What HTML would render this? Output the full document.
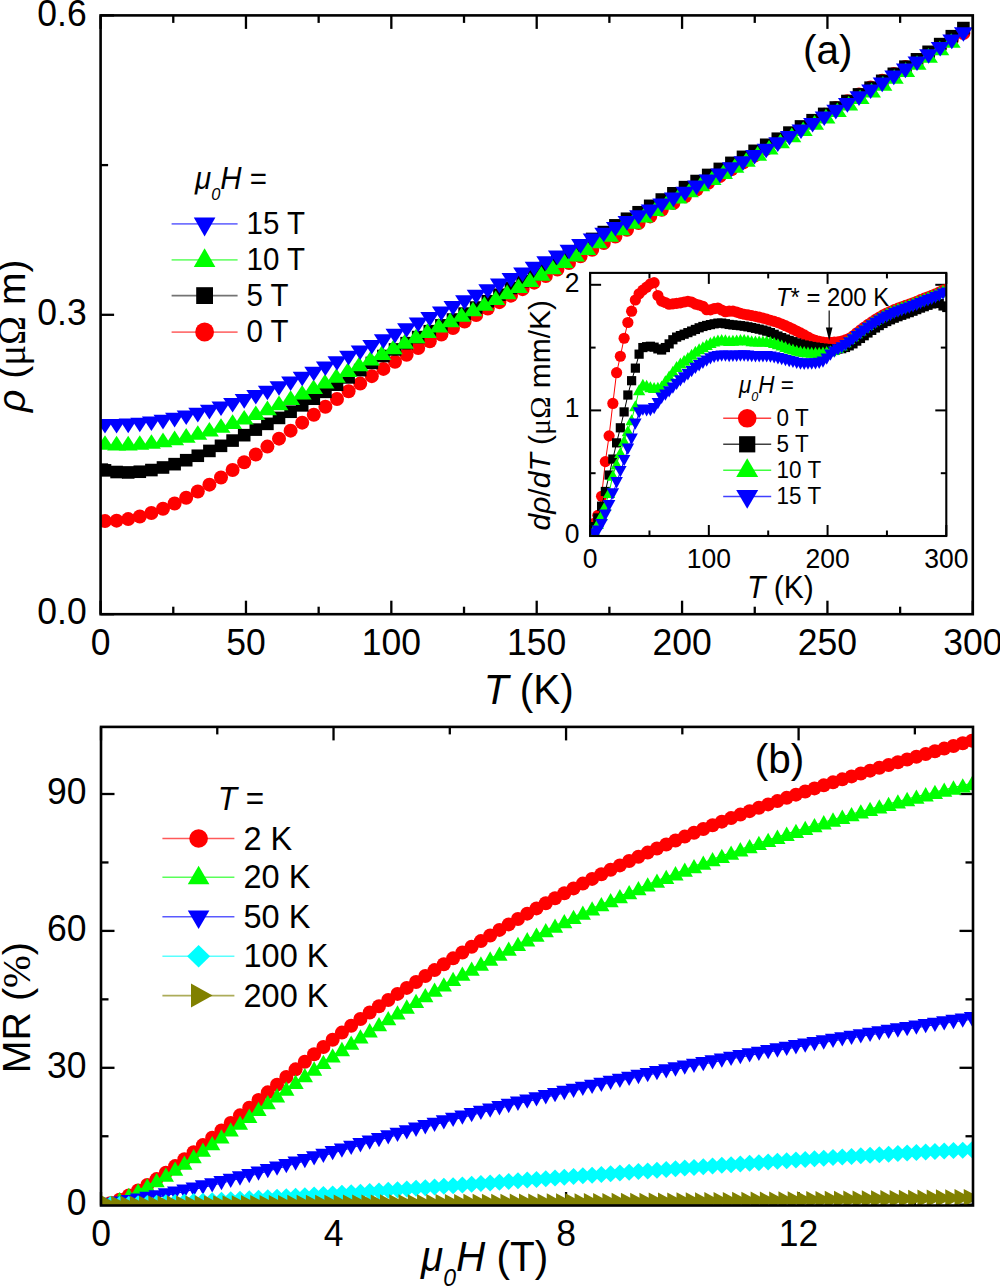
<!DOCTYPE html>
<html><head><meta charset="utf-8"><style>
html,body{margin:0;padding:0;background:#fff;width:1000px;height:1287px;overflow:hidden}
svg{display:block}
text{fill:#000}
</style></head><body>
<svg width="1000" height="1287" viewBox="0 0 1000 1287" font-family='"Liberation Sans", sans-serif'>
<defs>
<clipPath id="clipA"><rect x="100.6" y="15.4" width="872.2" height="598.8"/></clipPath>
<clipPath id="clipI"><rect x="590.1" y="272.9" width="356.2" height="263.1"/></clipPath>
<clipPath id="clipB"><rect x="101.0" y="726.9" width="872" height="478.6"/></clipPath>
</defs>
<rect width="1000" height="1287" fill="#fff"/>
<line x1="100.6" y1="614.2" x2="100.6" y2="600.7" stroke="#000" stroke-width="2.3"/><line x1="100.6" y1="15.4" x2="100.6" y2="28.9" stroke="#000" stroke-width="2.3"/><line x1="173.28" y1="614.2" x2="173.28" y2="606.7" stroke="#000" stroke-width="2.3"/><line x1="173.28" y1="15.4" x2="173.28" y2="22.9" stroke="#000" stroke-width="2.3"/><line x1="245.97" y1="614.2" x2="245.97" y2="600.7" stroke="#000" stroke-width="2.3"/><line x1="245.97" y1="15.4" x2="245.97" y2="28.9" stroke="#000" stroke-width="2.3"/><line x1="318.65" y1="614.2" x2="318.65" y2="606.7" stroke="#000" stroke-width="2.3"/><line x1="318.65" y1="15.4" x2="318.65" y2="22.9" stroke="#000" stroke-width="2.3"/><line x1="391.33" y1="614.2" x2="391.33" y2="600.7" stroke="#000" stroke-width="2.3"/><line x1="391.33" y1="15.4" x2="391.33" y2="28.9" stroke="#000" stroke-width="2.3"/><line x1="464.02" y1="614.2" x2="464.02" y2="606.7" stroke="#000" stroke-width="2.3"/><line x1="464.02" y1="15.4" x2="464.02" y2="22.9" stroke="#000" stroke-width="2.3"/><line x1="536.7" y1="614.2" x2="536.7" y2="600.7" stroke="#000" stroke-width="2.3"/><line x1="536.7" y1="15.4" x2="536.7" y2="28.9" stroke="#000" stroke-width="2.3"/><line x1="609.38" y1="614.2" x2="609.38" y2="606.7" stroke="#000" stroke-width="2.3"/><line x1="609.38" y1="15.4" x2="609.38" y2="22.9" stroke="#000" stroke-width="2.3"/><line x1="682.07" y1="614.2" x2="682.07" y2="600.7" stroke="#000" stroke-width="2.3"/><line x1="682.07" y1="15.4" x2="682.07" y2="28.9" stroke="#000" stroke-width="2.3"/><line x1="754.75" y1="614.2" x2="754.75" y2="606.7" stroke="#000" stroke-width="2.3"/><line x1="754.75" y1="15.4" x2="754.75" y2="22.9" stroke="#000" stroke-width="2.3"/><line x1="827.43" y1="614.2" x2="827.43" y2="600.7" stroke="#000" stroke-width="2.3"/><line x1="827.43" y1="15.4" x2="827.43" y2="28.9" stroke="#000" stroke-width="2.3"/><line x1="900.12" y1="614.2" x2="900.12" y2="606.7" stroke="#000" stroke-width="2.3"/><line x1="900.12" y1="15.4" x2="900.12" y2="22.9" stroke="#000" stroke-width="2.3"/><line x1="972.8" y1="614.2" x2="972.8" y2="600.7" stroke="#000" stroke-width="2.3"/><line x1="972.8" y1="15.4" x2="972.8" y2="28.9" stroke="#000" stroke-width="2.3"/><line x1="100.6" y1="614.2" x2="114.1" y2="614.2" stroke="#000" stroke-width="2.3"/><line x1="100.6" y1="464.5" x2="108.1" y2="464.5" stroke="#000" stroke-width="2.3"/><line x1="100.6" y1="314.8" x2="114.1" y2="314.8" stroke="#000" stroke-width="2.3"/><line x1="100.6" y1="165.1" x2="108.1" y2="165.1" stroke="#000" stroke-width="2.3"/><line x1="100.6" y1="15.4" x2="114.1" y2="15.4" stroke="#000" stroke-width="2.3"/><line x1="101" y1="1205.5" x2="101" y2="1192" stroke="#000" stroke-width="2.3"/><line x1="101" y1="726.9" x2="101" y2="740.4" stroke="#000" stroke-width="2.3"/><line x1="217.27" y1="1205.5" x2="217.27" y2="1198" stroke="#000" stroke-width="2.3"/><line x1="217.27" y1="726.9" x2="217.27" y2="734.4" stroke="#000" stroke-width="2.3"/><line x1="333.53" y1="1205.5" x2="333.53" y2="1192" stroke="#000" stroke-width="2.3"/><line x1="333.53" y1="726.9" x2="333.53" y2="740.4" stroke="#000" stroke-width="2.3"/><line x1="449.8" y1="1205.5" x2="449.8" y2="1198" stroke="#000" stroke-width="2.3"/><line x1="449.8" y1="726.9" x2="449.8" y2="734.4" stroke="#000" stroke-width="2.3"/><line x1="566.07" y1="1205.5" x2="566.07" y2="1192" stroke="#000" stroke-width="2.3"/><line x1="566.07" y1="726.9" x2="566.07" y2="740.4" stroke="#000" stroke-width="2.3"/><line x1="682.33" y1="1205.5" x2="682.33" y2="1198" stroke="#000" stroke-width="2.3"/><line x1="682.33" y1="726.9" x2="682.33" y2="734.4" stroke="#000" stroke-width="2.3"/><line x1="798.6" y1="1205.5" x2="798.6" y2="1192" stroke="#000" stroke-width="2.3"/><line x1="798.6" y1="726.9" x2="798.6" y2="740.4" stroke="#000" stroke-width="2.3"/><line x1="914.87" y1="1205.5" x2="914.87" y2="1198" stroke="#000" stroke-width="2.3"/><line x1="914.87" y1="726.9" x2="914.87" y2="734.4" stroke="#000" stroke-width="2.3"/><line x1="101" y1="1204.7" x2="114.5" y2="1204.7" stroke="#000" stroke-width="2.3"/><line x1="973" y1="1204.7" x2="959.5" y2="1204.7" stroke="#000" stroke-width="2.3"/><line x1="101" y1="1136.25" x2="108.5" y2="1136.25" stroke="#000" stroke-width="2.3"/><line x1="973" y1="1136.25" x2="965.5" y2="1136.25" stroke="#000" stroke-width="2.3"/><line x1="101" y1="1067.8" x2="114.5" y2="1067.8" stroke="#000" stroke-width="2.3"/><line x1="973" y1="1067.8" x2="959.5" y2="1067.8" stroke="#000" stroke-width="2.3"/><line x1="101" y1="999.35" x2="108.5" y2="999.35" stroke="#000" stroke-width="2.3"/><line x1="973" y1="999.35" x2="965.5" y2="999.35" stroke="#000" stroke-width="2.3"/><line x1="101" y1="930.9" x2="114.5" y2="930.9" stroke="#000" stroke-width="2.3"/><line x1="973" y1="930.9" x2="959.5" y2="930.9" stroke="#000" stroke-width="2.3"/><line x1="101" y1="862.45" x2="108.5" y2="862.45" stroke="#000" stroke-width="2.3"/><line x1="973" y1="862.45" x2="965.5" y2="862.45" stroke="#000" stroke-width="2.3"/><line x1="101" y1="794" x2="114.5" y2="794" stroke="#000" stroke-width="2.3"/><line x1="973" y1="794" x2="959.5" y2="794" stroke="#000" stroke-width="2.3"/>
<g clip-path="url(#clipA)"><circle cx="105" cy="521.1" r="7" fill="#ff0000"/><circle cx="116.6" cy="520.67" r="7" fill="#ff0000"/><circle cx="128.2" cy="519.12" r="7" fill="#ff0000"/><circle cx="139.8" cy="516.54" r="7" fill="#ff0000"/><circle cx="151.4" cy="513.03" r="7" fill="#ff0000"/><circle cx="163" cy="508.68" r="7" fill="#ff0000"/><circle cx="174.6" cy="503.57" r="7" fill="#ff0000"/><circle cx="186.2" cy="497.81" r="7" fill="#ff0000"/><circle cx="197.8" cy="491.48" r="7" fill="#ff0000"/><circle cx="209.4" cy="484.67" r="7" fill="#ff0000"/><circle cx="221" cy="477.47" r="7" fill="#ff0000"/><circle cx="232.6" cy="469.98" r="7" fill="#ff0000"/><circle cx="244.2" cy="462.3" r="7" fill="#ff0000"/><circle cx="255.8" cy="454.49" r="7" fill="#ff0000"/><circle cx="267.4" cy="446.59" r="7" fill="#ff0000"/><circle cx="279" cy="438.64" r="7" fill="#ff0000"/><circle cx="290.6" cy="430.66" r="7" fill="#ff0000"/><circle cx="302.2" cy="422.67" r="7" fill="#ff0000"/><circle cx="313.8" cy="414.7" r="7" fill="#ff0000"/><circle cx="325.4" cy="406.79" r="7" fill="#ff0000"/><circle cx="337" cy="398.95" r="7" fill="#ff0000"/><circle cx="348.6" cy="391.21" r="7" fill="#ff0000"/><circle cx="360.2" cy="383.61" r="7" fill="#ff0000"/><circle cx="371.8" cy="376.16" r="7" fill="#ff0000"/><circle cx="383.4" cy="368.88" r="7" fill="#ff0000"/><circle cx="395" cy="361.77" r="7" fill="#ff0000"/><circle cx="406.6" cy="354.81" r="7" fill="#ff0000"/><circle cx="418.2" cy="347.97" r="7" fill="#ff0000"/><circle cx="429.8" cy="341.24" r="7" fill="#ff0000"/><circle cx="441.4" cy="334.61" r="7" fill="#ff0000"/><circle cx="453" cy="328.04" r="7" fill="#ff0000"/><circle cx="464.6" cy="321.53" r="7" fill="#ff0000"/><circle cx="476.2" cy="315.06" r="7" fill="#ff0000"/><circle cx="487.8" cy="308.6" r="7" fill="#ff0000"/><circle cx="499.4" cy="302.13" r="7" fill="#ff0000"/><circle cx="511" cy="295.65" r="7" fill="#ff0000"/><circle cx="522.6" cy="289.15" r="7" fill="#ff0000"/><circle cx="534.2" cy="282.63" r="7" fill="#ff0000"/><circle cx="545.8" cy="276.08" r="7" fill="#ff0000"/><circle cx="557.4" cy="269.52" r="7" fill="#ff0000"/><circle cx="569" cy="262.94" r="7" fill="#ff0000"/><circle cx="580.6" cy="256.34" r="7" fill="#ff0000"/><circle cx="592.2" cy="249.72" r="7" fill="#ff0000"/><circle cx="603.8" cy="243.09" r="7" fill="#ff0000"/><circle cx="615.4" cy="236.44" r="7" fill="#ff0000"/><circle cx="627" cy="229.77" r="7" fill="#ff0000"/><circle cx="638.6" cy="223.09" r="7" fill="#ff0000"/><circle cx="650.2" cy="216.4" r="7" fill="#ff0000"/><circle cx="661.8" cy="209.7" r="7" fill="#ff0000"/><circle cx="673.4" cy="202.98" r="7" fill="#ff0000"/><circle cx="685" cy="196.25" r="7" fill="#ff0000"/><circle cx="696.6" cy="189.51" r="7" fill="#ff0000"/><circle cx="708.2" cy="182.75" r="7" fill="#ff0000"/><circle cx="719.8" cy="175.99" r="7" fill="#ff0000"/><circle cx="731.4" cy="169.22" r="7" fill="#ff0000"/><circle cx="743" cy="162.45" r="7" fill="#ff0000"/><circle cx="754.6" cy="155.66" r="7" fill="#ff0000"/><circle cx="766.2" cy="148.87" r="7" fill="#ff0000"/><circle cx="777.8" cy="142.07" r="7" fill="#ff0000"/><circle cx="789.4" cy="135.27" r="7" fill="#ff0000"/><circle cx="801" cy="128.46" r="7" fill="#ff0000"/><circle cx="812.6" cy="121.65" r="7" fill="#ff0000"/><circle cx="824.2" cy="114.84" r="7" fill="#ff0000"/><circle cx="835.8" cy="108.02" r="7" fill="#ff0000"/><circle cx="847.4" cy="101.2" r="7" fill="#ff0000"/><circle cx="859" cy="94.38" r="7" fill="#ff0000"/><circle cx="870.6" cy="87.56" r="7" fill="#ff0000"/><circle cx="882.2" cy="80.74" r="7" fill="#ff0000"/><circle cx="893.8" cy="73.92" r="7" fill="#ff0000"/><circle cx="905.4" cy="67.1" r="7" fill="#ff0000"/><circle cx="917" cy="60.29" r="7" fill="#ff0000"/><circle cx="928.6" cy="53.48" r="7" fill="#ff0000"/><circle cx="940.2" cy="46.67" r="7" fill="#ff0000"/><circle cx="951.8" cy="39.87" r="7" fill="#ff0000"/><circle cx="963.4" cy="33.07" r="7" fill="#ff0000"/><rect x="98.7" y="464.05" width="12.6" height="12.6" fill="#000000"/><rect x="110.3" y="465.72" width="12.6" height="12.6" fill="#000000"/><rect x="121.9" y="466.14" width="12.6" height="12.6" fill="#000000"/><rect x="133.5" y="465.44" width="12.6" height="12.6" fill="#000000"/><rect x="145.1" y="463.75" width="12.6" height="12.6" fill="#000000"/><rect x="156.7" y="461.18" width="12.6" height="12.6" fill="#000000"/><rect x="168.3" y="457.86" width="12.6" height="12.6" fill="#000000"/><rect x="179.9" y="453.91" width="12.6" height="12.6" fill="#000000"/><rect x="191.5" y="449.46" width="12.6" height="12.6" fill="#000000"/><rect x="203.1" y="444.62" width="12.6" height="12.6" fill="#000000"/><rect x="214.7" y="439.53" width="12.6" height="12.6" fill="#000000"/><rect x="226.3" y="434.28" width="12.6" height="12.6" fill="#000000"/><rect x="237.9" y="428.88" width="12.6" height="12.6" fill="#000000"/><rect x="249.5" y="423.31" width="12.6" height="12.6" fill="#000000"/><rect x="261.1" y="417.56" width="12.6" height="12.6" fill="#000000"/><rect x="272.7" y="411.61" width="12.6" height="12.6" fill="#000000"/><rect x="284.3" y="405.45" width="12.6" height="12.6" fill="#000000"/><rect x="295.9" y="399.06" width="12.6" height="12.6" fill="#000000"/><rect x="307.5" y="392.42" width="12.6" height="12.6" fill="#000000"/><rect x="319.1" y="385.53" width="12.6" height="12.6" fill="#000000"/><rect x="330.7" y="378.39" width="12.6" height="12.6" fill="#000000"/><rect x="342.3" y="371.1" width="12.6" height="12.6" fill="#000000"/><rect x="353.9" y="363.81" width="12.6" height="12.6" fill="#000000"/><rect x="365.5" y="356.64" width="12.6" height="12.6" fill="#000000"/><rect x="377.1" y="349.72" width="12.6" height="12.6" fill="#000000"/><rect x="388.7" y="343.14" width="12.6" height="12.6" fill="#000000"/><rect x="400.3" y="336.86" width="12.6" height="12.6" fill="#000000"/><rect x="411.9" y="330.8" width="12.6" height="12.6" fill="#000000"/><rect x="423.5" y="324.9" width="12.6" height="12.6" fill="#000000"/><rect x="435.1" y="319.06" width="12.6" height="12.6" fill="#000000"/><rect x="446.7" y="313.22" width="12.6" height="12.6" fill="#000000"/><rect x="458.3" y="307.31" width="12.6" height="12.6" fill="#000000"/><rect x="469.9" y="301.24" width="12.6" height="12.6" fill="#000000"/><rect x="481.5" y="294.95" width="12.6" height="12.6" fill="#000000"/><rect x="493.1" y="288.43" width="12.6" height="12.6" fill="#000000"/><rect x="504.7" y="281.72" width="12.6" height="12.6" fill="#000000"/><rect x="516.3" y="274.86" width="12.6" height="12.6" fill="#000000"/><rect x="527.9" y="267.89" width="12.6" height="12.6" fill="#000000"/><rect x="539.5" y="260.84" width="12.6" height="12.6" fill="#000000"/><rect x="551.1" y="253.75" width="12.6" height="12.6" fill="#000000"/><rect x="562.7" y="246.67" width="12.6" height="12.6" fill="#000000"/><rect x="574.3" y="239.62" width="12.6" height="12.6" fill="#000000"/><rect x="585.9" y="232.64" width="12.6" height="12.6" fill="#000000"/><rect x="597.5" y="225.78" width="12.6" height="12.6" fill="#000000"/><rect x="609.1" y="219.05" width="12.6" height="12.6" fill="#000000"/><rect x="620.7" y="212.44" width="12.6" height="12.6" fill="#000000"/><rect x="632.3" y="205.95" width="12.6" height="12.6" fill="#000000"/><rect x="643.9" y="199.55" width="12.6" height="12.6" fill="#000000"/><rect x="655.5" y="193.24" width="12.6" height="12.6" fill="#000000"/><rect x="667.1" y="187.01" width="12.6" height="12.6" fill="#000000"/><rect x="678.7" y="180.84" width="12.6" height="12.6" fill="#000000"/><rect x="690.3" y="174.73" width="12.6" height="12.6" fill="#000000"/><rect x="701.9" y="168.65" width="12.6" height="12.6" fill="#000000"/><rect x="713.5" y="162.61" width="12.6" height="12.6" fill="#000000"/><rect x="725.1" y="156.58" width="12.6" height="12.6" fill="#000000"/><rect x="736.7" y="150.56" width="12.6" height="12.6" fill="#000000"/><rect x="748.3" y="144.53" width="12.6" height="12.6" fill="#000000"/><rect x="759.9" y="138.49" width="12.6" height="12.6" fill="#000000"/><rect x="771.5" y="132.42" width="12.6" height="12.6" fill="#000000"/><rect x="783.1" y="126.31" width="12.6" height="12.6" fill="#000000"/><rect x="794.7" y="120.14" width="12.6" height="12.6" fill="#000000"/><rect x="806.3" y="113.91" width="12.6" height="12.6" fill="#000000"/><rect x="817.9" y="107.6" width="12.6" height="12.6" fill="#000000"/><rect x="829.5" y="101.21" width="12.6" height="12.6" fill="#000000"/><rect x="841.1" y="94.72" width="12.6" height="12.6" fill="#000000"/><rect x="852.7" y="88.11" width="12.6" height="12.6" fill="#000000"/><rect x="864.3" y="81.39" width="12.6" height="12.6" fill="#000000"/><rect x="875.9" y="74.53" width="12.6" height="12.6" fill="#000000"/><rect x="887.5" y="67.52" width="12.6" height="12.6" fill="#000000"/><rect x="899.1" y="60.36" width="12.6" height="12.6" fill="#000000"/><rect x="910.7" y="53.03" width="12.6" height="12.6" fill="#000000"/><rect x="922.3" y="45.51" width="12.6" height="12.6" fill="#000000"/><rect x="933.9" y="37.81" width="12.6" height="12.6" fill="#000000"/><rect x="945.5" y="29.9" width="12.6" height="12.6" fill="#000000"/><rect x="957.1" y="21.77" width="12.6" height="12.6" fill="#000000"/><path d="M105 435.24L114.5 449.84H95.5Z" fill="#00ff00"/><path d="M116.6 435.82L126.1 450.42H107.1Z" fill="#00ff00"/><path d="M128.2 435.82L137.7 450.42H118.7Z" fill="#00ff00"/><path d="M139.8 435.26L149.3 449.86H130.3Z" fill="#00ff00"/><path d="M151.4 434.19L160.9 448.79H141.9Z" fill="#00ff00"/><path d="M163 432.62L172.5 447.22H153.5Z" fill="#00ff00"/><path d="M174.6 430.58L184.1 445.18H165.1Z" fill="#00ff00"/><path d="M186.2 428.1L195.7 442.7H176.7Z" fill="#00ff00"/><path d="M197.8 425.2L207.3 439.8H188.3Z" fill="#00ff00"/><path d="M209.4 421.91L218.9 436.51H199.9Z" fill="#00ff00"/><path d="M221 418.27L230.5 432.87H211.5Z" fill="#00ff00"/><path d="M232.6 414.29L242.1 428.89H223.1Z" fill="#00ff00"/><path d="M244.2 410L253.7 424.6H234.7Z" fill="#00ff00"/><path d="M255.8 405.43L265.3 420.03H246.3Z" fill="#00ff00"/><path d="M267.4 400.61L276.9 415.21H257.9Z" fill="#00ff00"/><path d="M279 395.56L288.5 410.16H269.5Z" fill="#00ff00"/><path d="M290.6 390.31L300.1 404.91H281.1Z" fill="#00ff00"/><path d="M302.16 384.91L311.66 399.51H292.66Z" fill="#00ff00"/><path d="M313.55 379.45L323.05 394.05H304.05Z" fill="#00ff00"/><path d="M324.93 373.88L334.43 388.48H315.43Z" fill="#00ff00"/><path d="M336.32 368.22L345.82 382.82H326.82Z" fill="#00ff00"/><path d="M347.71 362.49L357.21 377.09H338.21Z" fill="#00ff00"/><path d="M359.09 356.74L368.59 371.34H349.59Z" fill="#00ff00"/><path d="M370.48 350.99L379.98 365.59H360.98Z" fill="#00ff00"/><path d="M381.87 345.28L391.37 359.88H372.37Z" fill="#00ff00"/><path d="M393.25 339.65L402.75 354.25H383.75Z" fill="#00ff00"/><path d="M404.64 334.12L414.14 348.72H395.14Z" fill="#00ff00"/><path d="M416.03 328.68L425.53 343.28H406.53Z" fill="#00ff00"/><path d="M427.41 323.3L436.91 337.9H417.91Z" fill="#00ff00"/><path d="M438.8 317.95L448.3 332.55H429.3Z" fill="#00ff00"/><path d="M450.18 312.59L459.68 327.19H440.68Z" fill="#00ff00"/><path d="M461.57 307.19L471.07 321.79H452.07Z" fill="#00ff00"/><path d="M472.96 301.72L482.46 316.32H463.46Z" fill="#00ff00"/><path d="M484.34 296.14L493.84 310.74H474.84Z" fill="#00ff00"/><path d="M495.73 290.42L505.23 305.02H486.23Z" fill="#00ff00"/><path d="M507.12 284.53L516.62 299.13H497.62Z" fill="#00ff00"/><path d="M518.5 278.5L528 293.1H509Z" fill="#00ff00"/><path d="M529.89 272.34L539.39 286.94H520.39Z" fill="#00ff00"/><path d="M541.28 266.08L550.78 280.68H531.78Z" fill="#00ff00"/><path d="M552.66 259.72L562.16 274.32H543.16Z" fill="#00ff00"/><path d="M564.05 253.29L573.55 267.89H554.55Z" fill="#00ff00"/><path d="M575.44 246.8L584.94 261.4H565.94Z" fill="#00ff00"/><path d="M586.82 240.28L596.32 254.88H577.32Z" fill="#00ff00"/><path d="M598.21 233.74L607.71 248.34H588.71Z" fill="#00ff00"/><path d="M609.6 227.21L619.1 241.81H600.1Z" fill="#00ff00"/><path d="M620.98 220.7L630.48 235.3H611.48Z" fill="#00ff00"/><path d="M632.37 214.22L641.87 228.82H622.87Z" fill="#00ff00"/><path d="M643.76 207.81L653.26 222.41H634.26Z" fill="#00ff00"/><path d="M655.14 201.46L664.64 216.06H645.64Z" fill="#00ff00"/><path d="M666.53 195.17L676.03 209.77H657.03Z" fill="#00ff00"/><path d="M677.92 188.94L687.42 203.54H668.42Z" fill="#00ff00"/><path d="M689.3 182.74L698.8 197.34H679.8Z" fill="#00ff00"/><path d="M700.69 176.59L710.19 191.19H691.19Z" fill="#00ff00"/><path d="M712.08 170.46L721.58 185.06H702.58Z" fill="#00ff00"/><path d="M723.46 164.35L732.96 178.95H713.96Z" fill="#00ff00"/><path d="M734.85 158.24L744.35 172.84H725.35Z" fill="#00ff00"/><path d="M746.24 152.14L755.74 166.74H736.74Z" fill="#00ff00"/><path d="M757.62 146.04L767.12 160.64H748.12Z" fill="#00ff00"/><path d="M769.01 139.92L778.51 154.52H759.51Z" fill="#00ff00"/><path d="M780.4 133.77L789.9 148.37H770.9Z" fill="#00ff00"/><path d="M791.78 127.6L801.28 142.2H782.28Z" fill="#00ff00"/><path d="M803.17 121.39L812.67 135.99H793.67Z" fill="#00ff00"/><path d="M814.55 115.12L824.05 129.72H805.05Z" fill="#00ff00"/><path d="M825.94 108.81L835.44 123.41H816.44Z" fill="#00ff00"/><path d="M837.33 102.42L846.83 117.02H827.83Z" fill="#00ff00"/><path d="M848.71 95.97L858.21 110.57H839.21Z" fill="#00ff00"/><path d="M860.1 89.43L869.6 104.03H850.6Z" fill="#00ff00"/><path d="M871.49 82.8L880.99 97.4H861.99Z" fill="#00ff00"/><path d="M882.87 76.08L892.37 90.68H873.37Z" fill="#00ff00"/><path d="M894.26 69.25L903.76 83.85H884.76Z" fill="#00ff00"/><path d="M905.65 62.31L915.15 76.91H896.15Z" fill="#00ff00"/><path d="M917.03 55.24L926.53 69.84H907.53Z" fill="#00ff00"/><path d="M928.42 48.04L937.92 62.64H918.92Z" fill="#00ff00"/><path d="M939.81 40.7L949.31 55.3H930.31Z" fill="#00ff00"/><path d="M951.19 33.22L960.69 47.82H941.69Z" fill="#00ff00"/><path d="M105 433.59L114.5 418.99H95.5Z" fill="#0000ff"/><path d="M116.6 433.61L126.1 419.01H107.1Z" fill="#0000ff"/><path d="M128.2 433.19L137.7 418.59H118.7Z" fill="#0000ff"/><path d="M139.8 432.34L149.3 417.74H130.3Z" fill="#0000ff"/><path d="M151.4 431.09L160.9 416.49H141.9Z" fill="#0000ff"/><path d="M163 429.45L172.5 414.85H153.5Z" fill="#0000ff"/><path d="M174.6 427.45L184.1 412.85H165.1Z" fill="#0000ff"/><path d="M186.2 425.09L195.7 410.49H176.7Z" fill="#0000ff"/><path d="M197.8 422.4L207.3 407.8H188.3Z" fill="#0000ff"/><path d="M209.4 419.4L218.9 404.8H199.9Z" fill="#0000ff"/><path d="M221 416.11L230.5 401.51H211.5Z" fill="#0000ff"/><path d="M232.6 412.53L242.1 397.93H223.1Z" fill="#0000ff"/><path d="M244.2 408.69L253.7 394.09H234.7Z" fill="#0000ff"/><path d="M255.8 404.62L265.3 390.02H246.3Z" fill="#0000ff"/><path d="M267.4 400.32L276.9 385.72H257.9Z" fill="#0000ff"/><path d="M279 395.81L288.5 381.21H269.5Z" fill="#0000ff"/><path d="M290.6 391.11L300.1 376.51H281.1Z" fill="#0000ff"/><path d="M302.2 386.25L311.7 371.65H292.7Z" fill="#0000ff"/><path d="M313.8 381.23L323.3 366.63H304.3Z" fill="#0000ff"/><path d="M325.4 376.08L334.9 361.48H315.9Z" fill="#0000ff"/><path d="M337 370.82L346.5 356.22H327.5Z" fill="#0000ff"/><path d="M348.6 365.45L358.1 350.85H339.1Z" fill="#0000ff"/><path d="M360.2 360.01L369.7 345.41H350.7Z" fill="#0000ff"/><path d="M371.8 354.5L381.3 339.9H362.3Z" fill="#0000ff"/><path d="M383.4 348.96L392.9 334.36H373.9Z" fill="#0000ff"/><path d="M395 343.38L404.5 328.78H385.5Z" fill="#0000ff"/><path d="M406.6 337.8L416.1 323.2H397.1Z" fill="#0000ff"/><path d="M418.2 332.22L427.7 317.62H408.7Z" fill="#0000ff"/><path d="M429.8 326.65L439.3 312.05H420.3Z" fill="#0000ff"/><path d="M441.4 321.08L450.9 306.48H431.9Z" fill="#0000ff"/><path d="M453 315.51L462.5 300.91H443.5Z" fill="#0000ff"/><path d="M464.6 309.94L474.1 295.34H455.1Z" fill="#0000ff"/><path d="M476.2 304.36L485.7 289.76H466.7Z" fill="#0000ff"/><path d="M487.8 298.78L497.3 284.18H478.3Z" fill="#0000ff"/><path d="M499.4 293.19L508.9 278.59H489.9Z" fill="#0000ff"/><path d="M511 287.59L520.5 272.99H501.5Z" fill="#0000ff"/><path d="M522.6 281.98L532.1 267.38H513.1Z" fill="#0000ff"/><path d="M534.2 276.36L543.7 261.76H524.7Z" fill="#0000ff"/><path d="M545.8 270.73L555.3 256.13H536.3Z" fill="#0000ff"/><path d="M557.4 265.07L566.9 250.47H547.9Z" fill="#0000ff"/><path d="M569 259.4L578.5 244.8H559.5Z" fill="#0000ff"/><path d="M580.6 253.71L590.1 239.11H571.1Z" fill="#0000ff"/><path d="M592.2 247.99L601.7 233.39H582.7Z" fill="#0000ff"/><path d="M603.8 242.25L613.3 227.65H594.3Z" fill="#0000ff"/><path d="M615.4 236.49L624.9 221.89H605.9Z" fill="#0000ff"/><path d="M627 230.69L636.5 216.09H617.5Z" fill="#0000ff"/><path d="M638.6 224.87L648.1 210.27H629.1Z" fill="#0000ff"/><path d="M650.2 219.01L659.7 204.41H640.7Z" fill="#0000ff"/><path d="M661.8 213.12L671.3 198.52H652.3Z" fill="#0000ff"/><path d="M673.4 207.19L682.9 192.59H663.9Z" fill="#0000ff"/><path d="M685 201.23L694.5 186.63H675.5Z" fill="#0000ff"/><path d="M696.6 195.22L706.1 180.62H687.1Z" fill="#0000ff"/><path d="M708.2 189.18L717.7 174.58H698.7Z" fill="#0000ff"/><path d="M719.8 183.09L729.3 168.49H710.3Z" fill="#0000ff"/><path d="M731.4 176.95L740.9 162.35H721.9Z" fill="#0000ff"/><path d="M743 170.77L752.5 156.17H733.5Z" fill="#0000ff"/><path d="M754.6 164.54L764.1 149.94H745.1Z" fill="#0000ff"/><path d="M766.2 158.26L775.7 143.66H756.7Z" fill="#0000ff"/><path d="M777.8 151.92L787.3 137.32H768.3Z" fill="#0000ff"/><path d="M789.4 145.53L798.9 130.93H779.9Z" fill="#0000ff"/><path d="M801 139.08L810.5 124.48H791.5Z" fill="#0000ff"/><path d="M812.6 132.58L822.1 117.98H803.1Z" fill="#0000ff"/><path d="M824.2 126.01L833.7 111.41H814.7Z" fill="#0000ff"/><path d="M835.8 119.38L845.3 104.78H826.3Z" fill="#0000ff"/><path d="M847.4 112.68L856.9 98.08H837.9Z" fill="#0000ff"/><path d="M859 105.92L868.5 91.32H849.5Z" fill="#0000ff"/><path d="M870.6 99.09L880.1 84.49H861.1Z" fill="#0000ff"/><path d="M882.2 92.2L891.7 77.6H872.7Z" fill="#0000ff"/><path d="M893.8 85.22L903.3 70.62H884.3Z" fill="#0000ff"/><path d="M905.4 78.18L914.9 63.58H895.9Z" fill="#0000ff"/><path d="M917 71.06L926.5 56.46H907.5Z" fill="#0000ff"/><path d="M928.6 63.86L938.1 49.26H919.1Z" fill="#0000ff"/><path d="M940.2 56.58L949.7 41.98H930.7Z" fill="#0000ff"/><path d="M951.8 49.22L961.3 34.62H942.3Z" fill="#0000ff"/><path d="M963.4 41.77L972.9 27.17H953.9Z" fill="#0000ff"/></g><g clip-path="url(#clipB)"><polyline points="101,1205.99 110.27,1203.29 119.53,1199.75 128.8,1195.47 138.06,1190.54 147.33,1185.04 156.6,1179.08 165.86,1172.73 175.13,1166.11 184.39,1159.27 193.66,1152.27 202.93,1145.11 212.19,1137.82 221.46,1130.41 230.72,1122.9 239.99,1115.33 249.26,1107.69 258.52,1100.02 267.79,1092.33 277.05,1084.64 286.32,1076.97 295.59,1069.35 304.85,1061.78 314.12,1054.3 323.38,1046.93 332.65,1039.69 341.91,1032.61 351.18,1025.7 360.45,1019 369.71,1012.5 378.98,1006.18 388.24,1000 397.51,993.92 406.78,987.92 416.04,981.96 425.31,976.01 434.57,970.1 443.84,964.21 453.11,958.37 462.37,952.56 471.64,946.81 480.9,941.11 490.17,935.47 499.44,929.9 508.7,924.41 517.97,918.99 527.23,913.65 536.5,908.41 545.77,903.26 555.03,898.2 564.3,893.24 573.56,888.38 582.83,883.61 592.1,878.92 601.36,874.32 610.63,869.81 619.89,865.38 629.16,861.04 638.43,856.77 647.69,852.58 656.96,848.47 666.22,844.44 675.49,840.47 684.76,836.58 694.02,832.75 703.29,828.99 712.55,825.3 721.82,821.67 731.09,818.1 740.35,814.59 749.62,811.14 758.88,807.74 768.15,804.4 777.41,801.11 786.68,797.87 795.95,794.67 805.21,791.53 814.48,788.42 823.74,785.36 833.01,782.35 842.28,779.37 851.54,776.42 860.81,773.51 870.07,770.64 879.34,767.8 888.61,764.98 897.87,762.2 907.14,759.43 916.4,756.7 925.67,753.98 934.94,751.29 944.2,748.61 953.47,745.95 962.73,743.3 972,740.67" fill="none" stroke="#ff0000" stroke-width="1"/><circle cx="101" cy="1205.99" r="7" fill="#ff0000"/><circle cx="110.27" cy="1203.29" r="7" fill="#ff0000"/><circle cx="119.53" cy="1199.75" r="7" fill="#ff0000"/><circle cx="128.8" cy="1195.47" r="7" fill="#ff0000"/><circle cx="138.06" cy="1190.54" r="7" fill="#ff0000"/><circle cx="147.33" cy="1185.04" r="7" fill="#ff0000"/><circle cx="156.6" cy="1179.08" r="7" fill="#ff0000"/><circle cx="165.86" cy="1172.73" r="7" fill="#ff0000"/><circle cx="175.13" cy="1166.11" r="7" fill="#ff0000"/><circle cx="184.39" cy="1159.27" r="7" fill="#ff0000"/><circle cx="193.66" cy="1152.27" r="7" fill="#ff0000"/><circle cx="202.93" cy="1145.11" r="7" fill="#ff0000"/><circle cx="212.19" cy="1137.82" r="7" fill="#ff0000"/><circle cx="221.46" cy="1130.41" r="7" fill="#ff0000"/><circle cx="230.72" cy="1122.9" r="7" fill="#ff0000"/><circle cx="239.99" cy="1115.33" r="7" fill="#ff0000"/><circle cx="249.26" cy="1107.69" r="7" fill="#ff0000"/><circle cx="258.52" cy="1100.02" r="7" fill="#ff0000"/><circle cx="267.79" cy="1092.33" r="7" fill="#ff0000"/><circle cx="277.05" cy="1084.64" r="7" fill="#ff0000"/><circle cx="286.32" cy="1076.97" r="7" fill="#ff0000"/><circle cx="295.59" cy="1069.35" r="7" fill="#ff0000"/><circle cx="304.85" cy="1061.78" r="7" fill="#ff0000"/><circle cx="314.12" cy="1054.3" r="7" fill="#ff0000"/><circle cx="323.38" cy="1046.93" r="7" fill="#ff0000"/><circle cx="332.65" cy="1039.69" r="7" fill="#ff0000"/><circle cx="341.91" cy="1032.61" r="7" fill="#ff0000"/><circle cx="351.18" cy="1025.7" r="7" fill="#ff0000"/><circle cx="360.45" cy="1019" r="7" fill="#ff0000"/><circle cx="369.71" cy="1012.5" r="7" fill="#ff0000"/><circle cx="378.98" cy="1006.18" r="7" fill="#ff0000"/><circle cx="388.24" cy="1000" r="7" fill="#ff0000"/><circle cx="397.51" cy="993.92" r="7" fill="#ff0000"/><circle cx="406.78" cy="987.92" r="7" fill="#ff0000"/><circle cx="416.04" cy="981.96" r="7" fill="#ff0000"/><circle cx="425.31" cy="976.01" r="7" fill="#ff0000"/><circle cx="434.57" cy="970.1" r="7" fill="#ff0000"/><circle cx="443.84" cy="964.21" r="7" fill="#ff0000"/><circle cx="453.11" cy="958.37" r="7" fill="#ff0000"/><circle cx="462.37" cy="952.56" r="7" fill="#ff0000"/><circle cx="471.64" cy="946.81" r="7" fill="#ff0000"/><circle cx="480.9" cy="941.11" r="7" fill="#ff0000"/><circle cx="490.17" cy="935.47" r="7" fill="#ff0000"/><circle cx="499.44" cy="929.9" r="7" fill="#ff0000"/><circle cx="508.7" cy="924.41" r="7" fill="#ff0000"/><circle cx="517.97" cy="918.99" r="7" fill="#ff0000"/><circle cx="527.23" cy="913.65" r="7" fill="#ff0000"/><circle cx="536.5" cy="908.41" r="7" fill="#ff0000"/><circle cx="545.77" cy="903.26" r="7" fill="#ff0000"/><circle cx="555.03" cy="898.2" r="7" fill="#ff0000"/><circle cx="564.3" cy="893.24" r="7" fill="#ff0000"/><circle cx="573.56" cy="888.38" r="7" fill="#ff0000"/><circle cx="582.83" cy="883.61" r="7" fill="#ff0000"/><circle cx="592.1" cy="878.92" r="7" fill="#ff0000"/><circle cx="601.36" cy="874.32" r="7" fill="#ff0000"/><circle cx="610.63" cy="869.81" r="7" fill="#ff0000"/><circle cx="619.89" cy="865.38" r="7" fill="#ff0000"/><circle cx="629.16" cy="861.04" r="7" fill="#ff0000"/><circle cx="638.43" cy="856.77" r="7" fill="#ff0000"/><circle cx="647.69" cy="852.58" r="7" fill="#ff0000"/><circle cx="656.96" cy="848.47" r="7" fill="#ff0000"/><circle cx="666.22" cy="844.44" r="7" fill="#ff0000"/><circle cx="675.49" cy="840.47" r="7" fill="#ff0000"/><circle cx="684.76" cy="836.58" r="7" fill="#ff0000"/><circle cx="694.02" cy="832.75" r="7" fill="#ff0000"/><circle cx="703.29" cy="828.99" r="7" fill="#ff0000"/><circle cx="712.55" cy="825.3" r="7" fill="#ff0000"/><circle cx="721.82" cy="821.67" r="7" fill="#ff0000"/><circle cx="731.09" cy="818.1" r="7" fill="#ff0000"/><circle cx="740.35" cy="814.59" r="7" fill="#ff0000"/><circle cx="749.62" cy="811.14" r="7" fill="#ff0000"/><circle cx="758.88" cy="807.74" r="7" fill="#ff0000"/><circle cx="768.15" cy="804.4" r="7" fill="#ff0000"/><circle cx="777.41" cy="801.11" r="7" fill="#ff0000"/><circle cx="786.68" cy="797.87" r="7" fill="#ff0000"/><circle cx="795.95" cy="794.67" r="7" fill="#ff0000"/><circle cx="805.21" cy="791.53" r="7" fill="#ff0000"/><circle cx="814.48" cy="788.42" r="7" fill="#ff0000"/><circle cx="823.74" cy="785.36" r="7" fill="#ff0000"/><circle cx="833.01" cy="782.35" r="7" fill="#ff0000"/><circle cx="842.28" cy="779.37" r="7" fill="#ff0000"/><circle cx="851.54" cy="776.42" r="7" fill="#ff0000"/><circle cx="860.81" cy="773.51" r="7" fill="#ff0000"/><circle cx="870.07" cy="770.64" r="7" fill="#ff0000"/><circle cx="879.34" cy="767.8" r="7" fill="#ff0000"/><circle cx="888.61" cy="764.98" r="7" fill="#ff0000"/><circle cx="897.87" cy="762.2" r="7" fill="#ff0000"/><circle cx="907.14" cy="759.43" r="7" fill="#ff0000"/><circle cx="916.4" cy="756.7" r="7" fill="#ff0000"/><circle cx="925.67" cy="753.98" r="7" fill="#ff0000"/><circle cx="934.94" cy="751.29" r="7" fill="#ff0000"/><circle cx="944.2" cy="748.61" r="7" fill="#ff0000"/><circle cx="953.47" cy="745.95" r="7" fill="#ff0000"/><circle cx="962.73" cy="743.3" r="7" fill="#ff0000"/><circle cx="972" cy="740.67" r="7" fill="#ff0000"/><polyline points="101,1206.04 110.27,1202.82 119.53,1199.13 128.8,1194.98 138.06,1190.42 147.33,1185.47 156.6,1180.18 165.86,1174.57 175.13,1168.69 184.39,1162.56 193.66,1156.22 202.93,1149.71 212.19,1143.06 221.46,1136.3 230.72,1129.47 239.99,1122.6 249.26,1115.73 258.52,1108.87 267.79,1102.04 277.05,1095.25 286.32,1088.48 295.59,1081.77 304.85,1075.1 314.12,1068.48 323.38,1061.92 332.65,1055.43 341.91,1049.01 351.18,1042.67 360.45,1036.4 369.71,1030.23 378.98,1024.15 388.24,1018.16 397.51,1012.28 406.78,1006.49 416.04,1000.8 425.31,995.2 434.57,989.7 443.84,984.28 453.11,978.95 462.37,973.71 471.64,968.55 480.9,963.48 490.17,958.48 499.44,953.56 508.7,948.72 517.97,943.95 527.23,939.26 536.5,934.63 545.77,930.08 555.03,925.59 564.3,921.18 573.56,916.83 582.83,912.55 592.1,908.33 601.36,904.18 610.63,900.1 619.89,896.07 629.16,892.12 638.43,888.22 647.69,884.39 656.96,880.61 666.22,876.9 675.49,873.25 684.76,869.65 694.02,866.11 703.29,862.63 712.55,859.21 721.82,855.84 731.09,852.53 740.35,849.27 749.62,846.06 758.88,842.91 768.15,839.81 777.41,836.76 786.68,833.76 795.95,830.81 805.21,827.9 814.48,825.05 823.74,822.24 833.01,819.48 842.28,816.77 851.54,814.1 860.81,811.47 870.07,808.89 879.34,806.35 888.61,803.86 897.87,801.4 907.14,798.98 916.4,796.61 925.67,794.27 934.94,791.97 944.2,789.71 953.47,787.49 962.73,785.3 972,783.14" fill="none" stroke="#00ff00" stroke-width="1"/><path d="M101 1198.89L109.1 1213.19H92.9Z" fill="#00ff00"/><path d="M110.27 1195.67L118.37 1209.97H102.17Z" fill="#00ff00"/><path d="M119.53 1191.98L127.63 1206.28H111.43Z" fill="#00ff00"/><path d="M128.8 1187.83L136.9 1202.13H120.7Z" fill="#00ff00"/><path d="M138.06 1183.27L146.16 1197.57H129.96Z" fill="#00ff00"/><path d="M147.33 1178.32L155.43 1192.62H139.23Z" fill="#00ff00"/><path d="M156.6 1173.03L164.7 1187.33H148.5Z" fill="#00ff00"/><path d="M165.86 1167.42L173.96 1181.72H157.76Z" fill="#00ff00"/><path d="M175.13 1161.54L183.23 1175.84H167.03Z" fill="#00ff00"/><path d="M184.39 1155.41L192.49 1169.71H176.29Z" fill="#00ff00"/><path d="M193.66 1149.07L201.76 1163.37H185.56Z" fill="#00ff00"/><path d="M202.93 1142.56L211.03 1156.86H194.83Z" fill="#00ff00"/><path d="M212.19 1135.91L220.29 1150.21H204.09Z" fill="#00ff00"/><path d="M221.46 1129.15L229.56 1143.45H213.36Z" fill="#00ff00"/><path d="M230.72 1122.32L238.82 1136.62H222.62Z" fill="#00ff00"/><path d="M239.99 1115.45L248.09 1129.75H231.89Z" fill="#00ff00"/><path d="M249.26 1108.58L257.36 1122.88H241.16Z" fill="#00ff00"/><path d="M258.52 1101.72L266.62 1116.02H250.42Z" fill="#00ff00"/><path d="M267.79 1094.89L275.89 1109.19H259.69Z" fill="#00ff00"/><path d="M277.05 1088.1L285.15 1102.4H268.95Z" fill="#00ff00"/><path d="M286.32 1081.33L294.42 1095.63H278.22Z" fill="#00ff00"/><path d="M295.59 1074.62L303.69 1088.92H287.49Z" fill="#00ff00"/><path d="M304.85 1067.95L312.95 1082.25H296.75Z" fill="#00ff00"/><path d="M314.12 1061.33L322.22 1075.63H306.02Z" fill="#00ff00"/><path d="M323.38 1054.77L331.48 1069.07H315.28Z" fill="#00ff00"/><path d="M332.65 1048.28L340.75 1062.58H324.55Z" fill="#00ff00"/><path d="M341.91 1041.86L350.01 1056.16H333.81Z" fill="#00ff00"/><path d="M351.18 1035.52L359.28 1049.82H343.08Z" fill="#00ff00"/><path d="M360.45 1029.25L368.55 1043.55H352.35Z" fill="#00ff00"/><path d="M369.71 1023.08L377.81 1037.38H361.61Z" fill="#00ff00"/><path d="M378.98 1017L387.08 1031.3H370.88Z" fill="#00ff00"/><path d="M388.24 1011.01L396.34 1025.31H380.14Z" fill="#00ff00"/><path d="M397.51 1005.13L405.61 1019.43H389.41Z" fill="#00ff00"/><path d="M406.78 999.34L414.88 1013.64H398.68Z" fill="#00ff00"/><path d="M416.04 993.65L424.14 1007.95H407.94Z" fill="#00ff00"/><path d="M425.31 988.05L433.41 1002.35H417.21Z" fill="#00ff00"/><path d="M434.57 982.55L442.67 996.85H426.47Z" fill="#00ff00"/><path d="M443.84 977.13L451.94 991.43H435.74Z" fill="#00ff00"/><path d="M453.11 971.8L461.21 986.1H445.01Z" fill="#00ff00"/><path d="M462.37 966.56L470.47 980.86H454.27Z" fill="#00ff00"/><path d="M471.64 961.4L479.74 975.7H463.54Z" fill="#00ff00"/><path d="M480.9 956.33L489 970.63H472.8Z" fill="#00ff00"/><path d="M490.17 951.33L498.27 965.63H482.07Z" fill="#00ff00"/><path d="M499.44 946.41L507.54 960.71H491.34Z" fill="#00ff00"/><path d="M508.7 941.57L516.8 955.87H500.6Z" fill="#00ff00"/><path d="M517.97 936.8L526.07 951.1H509.87Z" fill="#00ff00"/><path d="M527.23 932.11L535.33 946.41H519.13Z" fill="#00ff00"/><path d="M536.5 927.48L544.6 941.78H528.4Z" fill="#00ff00"/><path d="M545.77 922.93L553.87 937.23H537.67Z" fill="#00ff00"/><path d="M555.03 918.44L563.13 932.74H546.93Z" fill="#00ff00"/><path d="M564.3 914.03L572.4 928.33H556.2Z" fill="#00ff00"/><path d="M573.56 909.68L581.66 923.98H565.46Z" fill="#00ff00"/><path d="M582.83 905.4L590.93 919.7H574.73Z" fill="#00ff00"/><path d="M592.1 901.18L600.2 915.48H584Z" fill="#00ff00"/><path d="M601.36 897.03L609.46 911.33H593.26Z" fill="#00ff00"/><path d="M610.63 892.95L618.73 907.25H602.53Z" fill="#00ff00"/><path d="M619.89 888.92L627.99 903.22H611.79Z" fill="#00ff00"/><path d="M629.16 884.97L637.26 899.27H621.06Z" fill="#00ff00"/><path d="M638.43 881.07L646.53 895.37H630.33Z" fill="#00ff00"/><path d="M647.69 877.24L655.79 891.54H639.59Z" fill="#00ff00"/><path d="M656.96 873.46L665.06 887.76H648.86Z" fill="#00ff00"/><path d="M666.22 869.75L674.32 884.05H658.12Z" fill="#00ff00"/><path d="M675.49 866.1L683.59 880.4H667.39Z" fill="#00ff00"/><path d="M684.76 862.5L692.86 876.8H676.66Z" fill="#00ff00"/><path d="M694.02 858.96L702.12 873.26H685.92Z" fill="#00ff00"/><path d="M703.29 855.48L711.39 869.78H695.19Z" fill="#00ff00"/><path d="M712.55 852.06L720.65 866.36H704.45Z" fill="#00ff00"/><path d="M721.82 848.69L729.92 862.99H713.72Z" fill="#00ff00"/><path d="M731.09 845.38L739.19 859.68H722.99Z" fill="#00ff00"/><path d="M740.35 842.12L748.45 856.42H732.25Z" fill="#00ff00"/><path d="M749.62 838.91L757.72 853.21H741.52Z" fill="#00ff00"/><path d="M758.88 835.76L766.98 850.06H750.78Z" fill="#00ff00"/><path d="M768.15 832.66L776.25 846.96H760.05Z" fill="#00ff00"/><path d="M777.41 829.61L785.51 843.91H769.31Z" fill="#00ff00"/><path d="M786.68 826.61L794.78 840.91H778.58Z" fill="#00ff00"/><path d="M795.95 823.66L804.05 837.96H787.85Z" fill="#00ff00"/><path d="M805.21 820.75L813.31 835.05H797.11Z" fill="#00ff00"/><path d="M814.48 817.9L822.58 832.2H806.38Z" fill="#00ff00"/><path d="M823.74 815.09L831.84 829.39H815.64Z" fill="#00ff00"/><path d="M833.01 812.33L841.11 826.63H824.91Z" fill="#00ff00"/><path d="M842.28 809.62L850.38 823.92H834.18Z" fill="#00ff00"/><path d="M851.54 806.95L859.64 821.25H843.44Z" fill="#00ff00"/><path d="M860.81 804.32L868.91 818.62H852.71Z" fill="#00ff00"/><path d="M870.07 801.74L878.17 816.04H861.97Z" fill="#00ff00"/><path d="M879.34 799.2L887.44 813.5H871.24Z" fill="#00ff00"/><path d="M888.61 796.71L896.71 811.01H880.51Z" fill="#00ff00"/><path d="M897.87 794.25L905.97 808.55H889.77Z" fill="#00ff00"/><path d="M907.14 791.83L915.24 806.13H899.04Z" fill="#00ff00"/><path d="M916.4 789.46L924.5 803.76H908.3Z" fill="#00ff00"/><path d="M925.67 787.12L933.77 801.42H917.57Z" fill="#00ff00"/><path d="M934.94 784.82L943.04 799.12H926.84Z" fill="#00ff00"/><path d="M944.2 782.56L952.3 796.86H936.1Z" fill="#00ff00"/><path d="M953.47 780.34L961.57 794.64H945.37Z" fill="#00ff00"/><path d="M962.73 778.15L970.83 792.45H954.63Z" fill="#00ff00"/><path d="M972 775.99L980.1 790.29H963.9Z" fill="#00ff00"/><polyline points="101,1206.15 110.27,1204.93 119.53,1203.6 128.8,1202.17 138.06,1200.64 147.33,1199.02 156.6,1197.3 165.86,1195.5 175.13,1193.62 184.39,1191.66 193.66,1189.62 202.93,1187.52 212.19,1185.35 221.46,1183.12 230.72,1180.84 239.99,1178.5 249.26,1176.12 258.52,1173.69 267.79,1171.22 277.05,1168.71 286.32,1166.18 295.59,1163.61 304.85,1161.03 314.12,1158.42 323.38,1155.8 332.65,1153.18 341.91,1150.54 351.18,1147.9 360.45,1145.27 369.71,1142.64 378.98,1140.03 388.24,1137.43 397.51,1134.84 406.78,1132.29 416.04,1129.76 425.31,1127.25 434.57,1124.78 443.84,1122.34 453.11,1119.92 462.37,1117.53 471.64,1115.17 480.9,1112.84 490.17,1110.53 499.44,1108.25 508.7,1105.99 517.97,1103.76 527.23,1101.56 536.5,1099.38 545.77,1097.23 555.03,1095.1 564.3,1093 573.56,1090.91 582.83,1088.86 592.1,1086.82 601.36,1084.81 610.63,1082.82 619.89,1080.85 629.16,1078.91 638.43,1076.98 647.69,1075.08 656.96,1073.2 666.22,1071.34 675.49,1069.5 684.76,1067.67 694.02,1065.87 703.29,1064.09 712.55,1062.33 721.82,1060.58 731.09,1058.85 740.35,1057.14 749.62,1055.45 758.88,1053.78 768.15,1052.12 777.41,1050.48 786.68,1048.86 795.95,1047.25 805.21,1045.65 814.48,1044.08 823.74,1042.51 833.01,1040.96 842.28,1039.43 851.54,1037.91 860.81,1036.4 870.07,1034.91 879.34,1033.43 888.61,1031.96 897.87,1030.51 907.14,1029.06 916.4,1027.63 925.67,1026.21 934.94,1024.8 944.2,1023.4 953.47,1022.01 962.73,1020.63 972,1019.26" fill="none" stroke="#0000ff" stroke-width="1"/><path d="M101 1213.3L109.1 1199H92.9Z" fill="#0000ff"/><path d="M110.27 1212.08L118.37 1197.78H102.17Z" fill="#0000ff"/><path d="M119.53 1210.75L127.63 1196.45H111.43Z" fill="#0000ff"/><path d="M128.8 1209.32L136.9 1195.02H120.7Z" fill="#0000ff"/><path d="M138.06 1207.79L146.16 1193.49H129.96Z" fill="#0000ff"/><path d="M147.33 1206.17L155.43 1191.87H139.23Z" fill="#0000ff"/><path d="M156.6 1204.45L164.7 1190.15H148.5Z" fill="#0000ff"/><path d="M165.86 1202.65L173.96 1188.35H157.76Z" fill="#0000ff"/><path d="M175.13 1200.77L183.23 1186.47H167.03Z" fill="#0000ff"/><path d="M184.39 1198.81L192.49 1184.51H176.29Z" fill="#0000ff"/><path d="M193.66 1196.77L201.76 1182.47H185.56Z" fill="#0000ff"/><path d="M202.93 1194.67L211.03 1180.37H194.83Z" fill="#0000ff"/><path d="M212.19 1192.5L220.29 1178.2H204.09Z" fill="#0000ff"/><path d="M221.46 1190.27L229.56 1175.97H213.36Z" fill="#0000ff"/><path d="M230.72 1187.99L238.82 1173.69H222.62Z" fill="#0000ff"/><path d="M239.99 1185.65L248.09 1171.35H231.89Z" fill="#0000ff"/><path d="M249.26 1183.27L257.36 1168.97H241.16Z" fill="#0000ff"/><path d="M258.52 1180.84L266.62 1166.54H250.42Z" fill="#0000ff"/><path d="M267.79 1178.37L275.89 1164.07H259.69Z" fill="#0000ff"/><path d="M277.05 1175.86L285.15 1161.56H268.95Z" fill="#0000ff"/><path d="M286.32 1173.33L294.42 1159.03H278.22Z" fill="#0000ff"/><path d="M295.59 1170.76L303.69 1156.46H287.49Z" fill="#0000ff"/><path d="M304.85 1168.18L312.95 1153.88H296.75Z" fill="#0000ff"/><path d="M314.12 1165.57L322.22 1151.27H306.02Z" fill="#0000ff"/><path d="M323.38 1162.95L331.48 1148.65H315.28Z" fill="#0000ff"/><path d="M332.65 1160.33L340.75 1146.03H324.55Z" fill="#0000ff"/><path d="M341.91 1157.69L350.01 1143.39H333.81Z" fill="#0000ff"/><path d="M351.18 1155.05L359.28 1140.75H343.08Z" fill="#0000ff"/><path d="M360.45 1152.42L368.55 1138.12H352.35Z" fill="#0000ff"/><path d="M369.71 1149.79L377.81 1135.49H361.61Z" fill="#0000ff"/><path d="M378.98 1147.18L387.08 1132.88H370.88Z" fill="#0000ff"/><path d="M388.24 1144.58L396.34 1130.28H380.14Z" fill="#0000ff"/><path d="M397.51 1141.99L405.61 1127.69H389.41Z" fill="#0000ff"/><path d="M406.78 1139.44L414.88 1125.14H398.68Z" fill="#0000ff"/><path d="M416.04 1136.91L424.14 1122.61H407.94Z" fill="#0000ff"/><path d="M425.31 1134.4L433.41 1120.1H417.21Z" fill="#0000ff"/><path d="M434.57 1131.93L442.67 1117.63H426.47Z" fill="#0000ff"/><path d="M443.84 1129.49L451.94 1115.19H435.74Z" fill="#0000ff"/><path d="M453.11 1127.07L461.21 1112.77H445.01Z" fill="#0000ff"/><path d="M462.37 1124.68L470.47 1110.38H454.27Z" fill="#0000ff"/><path d="M471.64 1122.32L479.74 1108.02H463.54Z" fill="#0000ff"/><path d="M480.9 1119.99L489 1105.69H472.8Z" fill="#0000ff"/><path d="M490.17 1117.68L498.27 1103.38H482.07Z" fill="#0000ff"/><path d="M499.44 1115.4L507.54 1101.1H491.34Z" fill="#0000ff"/><path d="M508.7 1113.14L516.8 1098.84H500.6Z" fill="#0000ff"/><path d="M517.97 1110.91L526.07 1096.61H509.87Z" fill="#0000ff"/><path d="M527.23 1108.71L535.33 1094.41H519.13Z" fill="#0000ff"/><path d="M536.5 1106.53L544.6 1092.23H528.4Z" fill="#0000ff"/><path d="M545.77 1104.38L553.87 1090.08H537.67Z" fill="#0000ff"/><path d="M555.03 1102.25L563.13 1087.95H546.93Z" fill="#0000ff"/><path d="M564.3 1100.15L572.4 1085.85H556.2Z" fill="#0000ff"/><path d="M573.56 1098.06L581.66 1083.76H565.46Z" fill="#0000ff"/><path d="M582.83 1096.01L590.93 1081.71H574.73Z" fill="#0000ff"/><path d="M592.1 1093.97L600.2 1079.67H584Z" fill="#0000ff"/><path d="M601.36 1091.96L609.46 1077.66H593.26Z" fill="#0000ff"/><path d="M610.63 1089.97L618.73 1075.67H602.53Z" fill="#0000ff"/><path d="M619.89 1088L627.99 1073.7H611.79Z" fill="#0000ff"/><path d="M629.16 1086.06L637.26 1071.76H621.06Z" fill="#0000ff"/><path d="M638.43 1084.13L646.53 1069.83H630.33Z" fill="#0000ff"/><path d="M647.69 1082.23L655.79 1067.93H639.59Z" fill="#0000ff"/><path d="M656.96 1080.35L665.06 1066.05H648.86Z" fill="#0000ff"/><path d="M666.22 1078.49L674.32 1064.19H658.12Z" fill="#0000ff"/><path d="M675.49 1076.65L683.59 1062.35H667.39Z" fill="#0000ff"/><path d="M684.76 1074.82L692.86 1060.52H676.66Z" fill="#0000ff"/><path d="M694.02 1073.02L702.12 1058.72H685.92Z" fill="#0000ff"/><path d="M703.29 1071.24L711.39 1056.94H695.19Z" fill="#0000ff"/><path d="M712.55 1069.48L720.65 1055.18H704.45Z" fill="#0000ff"/><path d="M721.82 1067.73L729.92 1053.43H713.72Z" fill="#0000ff"/><path d="M731.09 1066L739.19 1051.7H722.99Z" fill="#0000ff"/><path d="M740.35 1064.29L748.45 1049.99H732.25Z" fill="#0000ff"/><path d="M749.62 1062.6L757.72 1048.3H741.52Z" fill="#0000ff"/><path d="M758.88 1060.93L766.98 1046.63H750.78Z" fill="#0000ff"/><path d="M768.15 1059.27L776.25 1044.97H760.05Z" fill="#0000ff"/><path d="M777.41 1057.63L785.51 1043.33H769.31Z" fill="#0000ff"/><path d="M786.68 1056.01L794.78 1041.71H778.58Z" fill="#0000ff"/><path d="M795.95 1054.4L804.05 1040.1H787.85Z" fill="#0000ff"/><path d="M805.21 1052.8L813.31 1038.5H797.11Z" fill="#0000ff"/><path d="M814.48 1051.23L822.58 1036.93H806.38Z" fill="#0000ff"/><path d="M823.74 1049.66L831.84 1035.36H815.64Z" fill="#0000ff"/><path d="M833.01 1048.11L841.11 1033.81H824.91Z" fill="#0000ff"/><path d="M842.28 1046.58L850.38 1032.28H834.18Z" fill="#0000ff"/><path d="M851.54 1045.06L859.64 1030.76H843.44Z" fill="#0000ff"/><path d="M860.81 1043.55L868.91 1029.25H852.71Z" fill="#0000ff"/><path d="M870.07 1042.06L878.17 1027.76H861.97Z" fill="#0000ff"/><path d="M879.34 1040.58L887.44 1026.28H871.24Z" fill="#0000ff"/><path d="M888.61 1039.11L896.71 1024.81H880.51Z" fill="#0000ff"/><path d="M897.87 1037.66L905.97 1023.36H889.77Z" fill="#0000ff"/><path d="M907.14 1036.21L915.24 1021.91H899.04Z" fill="#0000ff"/><path d="M916.4 1034.78L924.5 1020.48H908.3Z" fill="#0000ff"/><path d="M925.67 1033.36L933.77 1019.06H917.57Z" fill="#0000ff"/><path d="M934.94 1031.95L943.04 1017.65H926.84Z" fill="#0000ff"/><path d="M944.2 1030.55L952.3 1016.25H936.1Z" fill="#0000ff"/><path d="M953.47 1029.16L961.57 1014.86H945.37Z" fill="#0000ff"/><path d="M962.73 1027.78L970.83 1013.48H954.63Z" fill="#0000ff"/><path d="M972 1026.41L980.1 1012.11H963.9Z" fill="#0000ff"/><polyline points="101,1205.05 110.27,1204.78 119.53,1204.49 128.8,1204.18 138.06,1203.86 147.33,1203.52 156.6,1203.17 165.86,1202.8 175.13,1202.41 184.39,1202.01 193.66,1201.6 202.93,1201.18 212.19,1200.74 221.46,1200.28 230.72,1199.82 239.99,1199.34 249.26,1198.85 258.52,1198.35 267.79,1197.84 277.05,1197.31 286.32,1196.78 295.59,1196.23 304.85,1195.68 314.12,1195.11 323.38,1194.54 332.65,1193.95 341.91,1193.36 351.18,1192.76 360.45,1192.15 369.71,1191.53 378.98,1190.91 388.24,1190.27 397.51,1189.63 406.78,1188.99 416.04,1188.33 425.31,1187.67 434.57,1187.01 443.84,1186.34 453.11,1185.67 462.37,1184.99 471.64,1184.3 480.9,1183.61 490.17,1182.92 499.44,1182.23 508.7,1181.53 517.97,1180.83 527.23,1180.12 536.5,1179.42 545.77,1178.71 555.03,1178 564.3,1177.29 573.56,1176.58 582.83,1175.87 592.1,1175.15 601.36,1174.44 610.63,1173.73 619.89,1173.02 629.16,1172.31 638.43,1171.6 647.69,1170.89 656.96,1170.19 666.22,1169.49 675.49,1168.79 684.76,1168.09 694.02,1167.4 703.29,1166.71 712.55,1166.02 721.82,1165.34 731.09,1164.66 740.35,1163.99 749.62,1163.32 758.88,1162.66 768.15,1162.01 777.41,1161.36 786.68,1160.71 795.95,1160.08 805.21,1159.45 814.48,1158.83 823.74,1158.21 833.01,1157.61 842.28,1157.01 851.54,1156.42 860.81,1155.84 870.07,1155.27 879.34,1154.71 888.61,1154.16 897.87,1153.62 907.14,1153.09 916.4,1152.58 925.67,1152.07 934.94,1151.57 944.2,1151.09 953.47,1150.62 962.73,1150.16 972,1149.72" fill="none" stroke="#00ffff" stroke-width="1"/><path d="M101 1196.55L109.7 1205.05L101 1213.55L92.3 1205.05Z" fill="#00ffff"/><path d="M110.27 1196.28L118.97 1204.78L110.27 1213.28L101.57 1204.78Z" fill="#00ffff"/><path d="M119.53 1195.99L128.23 1204.49L119.53 1212.99L110.83 1204.49Z" fill="#00ffff"/><path d="M128.8 1195.68L137.5 1204.18L128.8 1212.68L120.1 1204.18Z" fill="#00ffff"/><path d="M138.06 1195.36L146.76 1203.86L138.06 1212.36L129.36 1203.86Z" fill="#00ffff"/><path d="M147.33 1195.02L156.03 1203.52L147.33 1212.02L138.63 1203.52Z" fill="#00ffff"/><path d="M156.6 1194.67L165.3 1203.17L156.6 1211.67L147.9 1203.17Z" fill="#00ffff"/><path d="M165.86 1194.3L174.56 1202.8L165.86 1211.3L157.16 1202.8Z" fill="#00ffff"/><path d="M175.13 1193.91L183.83 1202.41L175.13 1210.91L166.43 1202.41Z" fill="#00ffff"/><path d="M184.39 1193.51L193.09 1202.01L184.39 1210.51L175.69 1202.01Z" fill="#00ffff"/><path d="M193.66 1193.1L202.36 1201.6L193.66 1210.1L184.96 1201.6Z" fill="#00ffff"/><path d="M202.93 1192.68L211.63 1201.18L202.93 1209.68L194.23 1201.18Z" fill="#00ffff"/><path d="M212.19 1192.24L220.89 1200.74L212.19 1209.24L203.49 1200.74Z" fill="#00ffff"/><path d="M221.46 1191.78L230.16 1200.28L221.46 1208.78L212.76 1200.28Z" fill="#00ffff"/><path d="M230.72 1191.32L239.42 1199.82L230.72 1208.32L222.02 1199.82Z" fill="#00ffff"/><path d="M239.99 1190.84L248.69 1199.34L239.99 1207.84L231.29 1199.34Z" fill="#00ffff"/><path d="M249.26 1190.35L257.96 1198.85L249.26 1207.35L240.56 1198.85Z" fill="#00ffff"/><path d="M258.52 1189.85L267.22 1198.35L258.52 1206.85L249.82 1198.35Z" fill="#00ffff"/><path d="M267.79 1189.34L276.49 1197.84L267.79 1206.34L259.09 1197.84Z" fill="#00ffff"/><path d="M277.05 1188.81L285.75 1197.31L277.05 1205.81L268.35 1197.31Z" fill="#00ffff"/><path d="M286.32 1188.28L295.02 1196.78L286.32 1205.28L277.62 1196.78Z" fill="#00ffff"/><path d="M295.59 1187.73L304.29 1196.23L295.59 1204.73L286.89 1196.23Z" fill="#00ffff"/><path d="M304.85 1187.18L313.55 1195.68L304.85 1204.18L296.15 1195.68Z" fill="#00ffff"/><path d="M314.12 1186.61L322.82 1195.11L314.12 1203.61L305.42 1195.11Z" fill="#00ffff"/><path d="M323.38 1186.04L332.08 1194.54L323.38 1203.04L314.68 1194.54Z" fill="#00ffff"/><path d="M332.65 1185.45L341.35 1193.95L332.65 1202.45L323.95 1193.95Z" fill="#00ffff"/><path d="M341.91 1184.86L350.61 1193.36L341.91 1201.86L333.21 1193.36Z" fill="#00ffff"/><path d="M351.18 1184.26L359.88 1192.76L351.18 1201.26L342.48 1192.76Z" fill="#00ffff"/><path d="M360.45 1183.65L369.15 1192.15L360.45 1200.65L351.75 1192.15Z" fill="#00ffff"/><path d="M369.71 1183.03L378.41 1191.53L369.71 1200.03L361.01 1191.53Z" fill="#00ffff"/><path d="M378.98 1182.41L387.68 1190.91L378.98 1199.41L370.28 1190.91Z" fill="#00ffff"/><path d="M388.24 1181.77L396.94 1190.27L388.24 1198.77L379.54 1190.27Z" fill="#00ffff"/><path d="M397.51 1181.13L406.21 1189.63L397.51 1198.13L388.81 1189.63Z" fill="#00ffff"/><path d="M406.78 1180.49L415.48 1188.99L406.78 1197.49L398.08 1188.99Z" fill="#00ffff"/><path d="M416.04 1179.83L424.74 1188.33L416.04 1196.83L407.34 1188.33Z" fill="#00ffff"/><path d="M425.31 1179.17L434.01 1187.67L425.31 1196.17L416.61 1187.67Z" fill="#00ffff"/><path d="M434.57 1178.51L443.27 1187.01L434.57 1195.51L425.87 1187.01Z" fill="#00ffff"/><path d="M443.84 1177.84L452.54 1186.34L443.84 1194.84L435.14 1186.34Z" fill="#00ffff"/><path d="M453.11 1177.17L461.81 1185.67L453.11 1194.17L444.41 1185.67Z" fill="#00ffff"/><path d="M462.37 1176.49L471.07 1184.99L462.37 1193.49L453.67 1184.99Z" fill="#00ffff"/><path d="M471.64 1175.8L480.34 1184.3L471.64 1192.8L462.94 1184.3Z" fill="#00ffff"/><path d="M480.9 1175.11L489.6 1183.61L480.9 1192.11L472.2 1183.61Z" fill="#00ffff"/><path d="M490.17 1174.42L498.87 1182.92L490.17 1191.42L481.47 1182.92Z" fill="#00ffff"/><path d="M499.44 1173.73L508.14 1182.23L499.44 1190.73L490.74 1182.23Z" fill="#00ffff"/><path d="M508.7 1173.03L517.4 1181.53L508.7 1190.03L500 1181.53Z" fill="#00ffff"/><path d="M517.97 1172.33L526.67 1180.83L517.97 1189.33L509.27 1180.83Z" fill="#00ffff"/><path d="M527.23 1171.62L535.93 1180.12L527.23 1188.62L518.53 1180.12Z" fill="#00ffff"/><path d="M536.5 1170.92L545.2 1179.42L536.5 1187.92L527.8 1179.42Z" fill="#00ffff"/><path d="M545.77 1170.21L554.47 1178.71L545.77 1187.21L537.07 1178.71Z" fill="#00ffff"/><path d="M555.03 1169.5L563.73 1178L555.03 1186.5L546.33 1178Z" fill="#00ffff"/><path d="M564.3 1168.79L573 1177.29L564.3 1185.79L555.6 1177.29Z" fill="#00ffff"/><path d="M573.56 1168.08L582.26 1176.58L573.56 1185.08L564.86 1176.58Z" fill="#00ffff"/><path d="M582.83 1167.37L591.53 1175.87L582.83 1184.37L574.13 1175.87Z" fill="#00ffff"/><path d="M592.1 1166.65L600.8 1175.15L592.1 1183.65L583.4 1175.15Z" fill="#00ffff"/><path d="M601.36 1165.94L610.06 1174.44L601.36 1182.94L592.66 1174.44Z" fill="#00ffff"/><path d="M610.63 1165.23L619.33 1173.73L610.63 1182.23L601.93 1173.73Z" fill="#00ffff"/><path d="M619.89 1164.52L628.59 1173.02L619.89 1181.52L611.19 1173.02Z" fill="#00ffff"/><path d="M629.16 1163.81L637.86 1172.31L629.16 1180.81L620.46 1172.31Z" fill="#00ffff"/><path d="M638.43 1163.1L647.13 1171.6L638.43 1180.1L629.73 1171.6Z" fill="#00ffff"/><path d="M647.69 1162.39L656.39 1170.89L647.69 1179.39L638.99 1170.89Z" fill="#00ffff"/><path d="M656.96 1161.69L665.66 1170.19L656.96 1178.69L648.26 1170.19Z" fill="#00ffff"/><path d="M666.22 1160.99L674.92 1169.49L666.22 1177.99L657.52 1169.49Z" fill="#00ffff"/><path d="M675.49 1160.29L684.19 1168.79L675.49 1177.29L666.79 1168.79Z" fill="#00ffff"/><path d="M684.76 1159.59L693.46 1168.09L684.76 1176.59L676.06 1168.09Z" fill="#00ffff"/><path d="M694.02 1158.9L702.72 1167.4L694.02 1175.9L685.32 1167.4Z" fill="#00ffff"/><path d="M703.29 1158.21L711.99 1166.71L703.29 1175.21L694.59 1166.71Z" fill="#00ffff"/><path d="M712.55 1157.52L721.25 1166.02L712.55 1174.52L703.85 1166.02Z" fill="#00ffff"/><path d="M721.82 1156.84L730.52 1165.34L721.82 1173.84L713.12 1165.34Z" fill="#00ffff"/><path d="M731.09 1156.16L739.79 1164.66L731.09 1173.16L722.39 1164.66Z" fill="#00ffff"/><path d="M740.35 1155.49L749.05 1163.99L740.35 1172.49L731.65 1163.99Z" fill="#00ffff"/><path d="M749.62 1154.82L758.32 1163.32L749.62 1171.82L740.92 1163.32Z" fill="#00ffff"/><path d="M758.88 1154.16L767.58 1162.66L758.88 1171.16L750.18 1162.66Z" fill="#00ffff"/><path d="M768.15 1153.51L776.85 1162.01L768.15 1170.51L759.45 1162.01Z" fill="#00ffff"/><path d="M777.41 1152.86L786.11 1161.36L777.41 1169.86L768.71 1161.36Z" fill="#00ffff"/><path d="M786.68 1152.21L795.38 1160.71L786.68 1169.21L777.98 1160.71Z" fill="#00ffff"/><path d="M795.95 1151.58L804.65 1160.08L795.95 1168.58L787.25 1160.08Z" fill="#00ffff"/><path d="M805.21 1150.95L813.91 1159.45L805.21 1167.95L796.51 1159.45Z" fill="#00ffff"/><path d="M814.48 1150.33L823.18 1158.83L814.48 1167.33L805.78 1158.83Z" fill="#00ffff"/><path d="M823.74 1149.71L832.44 1158.21L823.74 1166.71L815.04 1158.21Z" fill="#00ffff"/><path d="M833.01 1149.11L841.71 1157.61L833.01 1166.11L824.31 1157.61Z" fill="#00ffff"/><path d="M842.28 1148.51L850.98 1157.01L842.28 1165.51L833.58 1157.01Z" fill="#00ffff"/><path d="M851.54 1147.92L860.24 1156.42L851.54 1164.92L842.84 1156.42Z" fill="#00ffff"/><path d="M860.81 1147.34L869.51 1155.84L860.81 1164.34L852.11 1155.84Z" fill="#00ffff"/><path d="M870.07 1146.77L878.77 1155.27L870.07 1163.77L861.37 1155.27Z" fill="#00ffff"/><path d="M879.34 1146.21L888.04 1154.71L879.34 1163.21L870.64 1154.71Z" fill="#00ffff"/><path d="M888.61 1145.66L897.31 1154.16L888.61 1162.66L879.91 1154.16Z" fill="#00ffff"/><path d="M897.87 1145.12L906.57 1153.62L897.87 1162.12L889.17 1153.62Z" fill="#00ffff"/><path d="M907.14 1144.59L915.84 1153.09L907.14 1161.59L898.44 1153.09Z" fill="#00ffff"/><path d="M916.4 1144.08L925.1 1152.58L916.4 1161.08L907.7 1152.58Z" fill="#00ffff"/><path d="M925.67 1143.57L934.37 1152.07L925.67 1160.57L916.97 1152.07Z" fill="#00ffff"/><path d="M934.94 1143.07L943.64 1151.57L934.94 1160.07L926.24 1151.57Z" fill="#00ffff"/><path d="M944.2 1142.59L952.9 1151.09L944.2 1159.59L935.5 1151.09Z" fill="#00ffff"/><path d="M953.47 1142.12L962.17 1150.62L953.47 1159.12L944.77 1150.62Z" fill="#00ffff"/><path d="M962.73 1141.66L971.43 1150.16L962.73 1158.66L954.03 1150.16Z" fill="#00ffff"/><path d="M972 1141.22L980.7 1149.72L972 1158.22L963.3 1149.72Z" fill="#00ffff"/><polyline points="101,1204.71 110.27,1204.65 119.53,1204.6 128.8,1204.54 138.06,1204.49 147.33,1204.44 156.6,1204.38 165.86,1204.33 175.13,1204.28 184.39,1204.23 193.66,1204.18 202.93,1204.13 212.19,1204.08 221.46,1204.03 230.72,1203.98 239.99,1203.93 249.26,1203.88 258.52,1203.83 267.79,1203.78 277.05,1203.73 286.32,1203.69 295.59,1203.64 304.85,1203.59 314.12,1203.54 323.38,1203.49 332.65,1203.44 341.91,1203.39 351.18,1203.34 360.45,1203.29 369.71,1203.24 378.98,1203.19 388.24,1203.14 397.51,1203.09 406.78,1203.04 416.04,1202.99 425.31,1202.93 434.57,1202.88 443.84,1202.83 453.11,1202.77 462.37,1202.72 471.64,1202.66 480.9,1202.61 490.17,1202.55 499.44,1202.49 508.7,1202.44 517.97,1202.38 527.23,1202.32 536.5,1202.25 545.77,1202.19 555.03,1202.13 564.3,1202.07 573.56,1202 582.83,1201.93 592.1,1201.87 601.36,1201.8 610.63,1201.73 619.89,1201.66 629.16,1201.59 638.43,1201.51 647.69,1201.44 656.96,1201.36 666.22,1201.28 675.49,1201.21 684.76,1201.12 694.02,1201.04 703.29,1200.96 712.55,1200.87 721.82,1200.79 731.09,1200.7 740.35,1200.61 749.62,1200.52 758.88,1200.42 768.15,1200.33 777.41,1200.23 786.68,1200.13 795.95,1200.03 805.21,1199.93 814.48,1199.83 823.74,1199.72 833.01,1199.61 842.28,1199.5 851.54,1199.39 860.81,1199.27 870.07,1199.15 879.34,1199.04 888.61,1198.91 897.87,1198.79 907.14,1198.66 916.4,1198.54 925.67,1198.4 934.94,1198.27 944.2,1198.14 953.47,1198 962.73,1197.86 972,1197.71" fill="none" stroke="#808000" stroke-width="1"/><path d="M109.25 1204.71L92.75 1195.91V1213.51Z" fill="#808000"/><path d="M118.52 1204.65L102.02 1195.85V1213.45Z" fill="#808000"/><path d="M127.78 1204.6L111.28 1195.8V1213.4Z" fill="#808000"/><path d="M137.05 1204.54L120.55 1195.74V1213.34Z" fill="#808000"/><path d="M146.31 1204.49L129.81 1195.69V1213.29Z" fill="#808000"/><path d="M155.58 1204.44L139.08 1195.64V1213.24Z" fill="#808000"/><path d="M164.85 1204.38L148.35 1195.58V1213.18Z" fill="#808000"/><path d="M174.11 1204.33L157.61 1195.53V1213.13Z" fill="#808000"/><path d="M183.38 1204.28L166.88 1195.48V1213.08Z" fill="#808000"/><path d="M192.64 1204.23L176.14 1195.43V1213.03Z" fill="#808000"/><path d="M201.91 1204.18L185.41 1195.38V1212.98Z" fill="#808000"/><path d="M211.18 1204.13L194.68 1195.33V1212.93Z" fill="#808000"/><path d="M220.44 1204.08L203.94 1195.28V1212.88Z" fill="#808000"/><path d="M229.71 1204.03L213.21 1195.23V1212.83Z" fill="#808000"/><path d="M238.97 1203.98L222.47 1195.18V1212.78Z" fill="#808000"/><path d="M248.24 1203.93L231.74 1195.13V1212.73Z" fill="#808000"/><path d="M257.51 1203.88L241.01 1195.08V1212.68Z" fill="#808000"/><path d="M266.77 1203.83L250.27 1195.03V1212.63Z" fill="#808000"/><path d="M276.04 1203.78L259.54 1194.98V1212.58Z" fill="#808000"/><path d="M285.3 1203.73L268.8 1194.93V1212.53Z" fill="#808000"/><path d="M294.57 1203.69L278.07 1194.89V1212.49Z" fill="#808000"/><path d="M303.84 1203.64L287.34 1194.84V1212.44Z" fill="#808000"/><path d="M313.1 1203.59L296.6 1194.79V1212.39Z" fill="#808000"/><path d="M322.37 1203.54L305.87 1194.74V1212.34Z" fill="#808000"/><path d="M331.63 1203.49L315.13 1194.69V1212.29Z" fill="#808000"/><path d="M340.9 1203.44L324.4 1194.64V1212.24Z" fill="#808000"/><path d="M350.16 1203.39L333.66 1194.59V1212.19Z" fill="#808000"/><path d="M359.43 1203.34L342.93 1194.54V1212.14Z" fill="#808000"/><path d="M368.7 1203.29L352.2 1194.49V1212.09Z" fill="#808000"/><path d="M377.96 1203.24L361.46 1194.44V1212.04Z" fill="#808000"/><path d="M387.23 1203.19L370.73 1194.39V1211.99Z" fill="#808000"/><path d="M396.49 1203.14L379.99 1194.34V1211.94Z" fill="#808000"/><path d="M405.76 1203.09L389.26 1194.29V1211.89Z" fill="#808000"/><path d="M415.03 1203.04L398.53 1194.24V1211.84Z" fill="#808000"/><path d="M424.29 1202.99L407.79 1194.19V1211.79Z" fill="#808000"/><path d="M433.56 1202.93L417.06 1194.13V1211.73Z" fill="#808000"/><path d="M442.82 1202.88L426.32 1194.08V1211.68Z" fill="#808000"/><path d="M452.09 1202.83L435.59 1194.03V1211.63Z" fill="#808000"/><path d="M461.36 1202.77L444.86 1193.97V1211.57Z" fill="#808000"/><path d="M470.62 1202.72L454.12 1193.92V1211.52Z" fill="#808000"/><path d="M479.89 1202.66L463.39 1193.86V1211.46Z" fill="#808000"/><path d="M489.15 1202.61L472.65 1193.81V1211.41Z" fill="#808000"/><path d="M498.42 1202.55L481.92 1193.75V1211.35Z" fill="#808000"/><path d="M507.69 1202.49L491.19 1193.69V1211.29Z" fill="#808000"/><path d="M516.95 1202.44L500.45 1193.64V1211.24Z" fill="#808000"/><path d="M526.22 1202.38L509.72 1193.58V1211.18Z" fill="#808000"/><path d="M535.48 1202.32L518.98 1193.52V1211.12Z" fill="#808000"/><path d="M544.75 1202.25L528.25 1193.45V1211.05Z" fill="#808000"/><path d="M554.02 1202.19L537.52 1193.39V1210.99Z" fill="#808000"/><path d="M563.28 1202.13L546.78 1193.33V1210.93Z" fill="#808000"/><path d="M572.55 1202.07L556.05 1193.27V1210.87Z" fill="#808000"/><path d="M581.81 1202L565.31 1193.2V1210.8Z" fill="#808000"/><path d="M591.08 1201.93L574.58 1193.13V1210.73Z" fill="#808000"/><path d="M600.35 1201.87L583.85 1193.07V1210.67Z" fill="#808000"/><path d="M609.61 1201.8L593.11 1193V1210.6Z" fill="#808000"/><path d="M618.88 1201.73L602.38 1192.93V1210.53Z" fill="#808000"/><path d="M628.14 1201.66L611.64 1192.86V1210.46Z" fill="#808000"/><path d="M637.41 1201.59L620.91 1192.79V1210.39Z" fill="#808000"/><path d="M646.68 1201.51L630.18 1192.71V1210.31Z" fill="#808000"/><path d="M655.94 1201.44L639.44 1192.64V1210.24Z" fill="#808000"/><path d="M665.21 1201.36L648.71 1192.56V1210.16Z" fill="#808000"/><path d="M674.47 1201.28L657.97 1192.48V1210.08Z" fill="#808000"/><path d="M683.74 1201.21L667.24 1192.41V1210.01Z" fill="#808000"/><path d="M693.01 1201.12L676.51 1192.32V1209.92Z" fill="#808000"/><path d="M702.27 1201.04L685.77 1192.24V1209.84Z" fill="#808000"/><path d="M711.54 1200.96L695.04 1192.16V1209.76Z" fill="#808000"/><path d="M720.8 1200.87L704.3 1192.07V1209.67Z" fill="#808000"/><path d="M730.07 1200.79L713.57 1191.99V1209.59Z" fill="#808000"/><path d="M739.34 1200.7L722.84 1191.9V1209.5Z" fill="#808000"/><path d="M748.6 1200.61L732.1 1191.81V1209.41Z" fill="#808000"/><path d="M757.87 1200.52L741.37 1191.72V1209.32Z" fill="#808000"/><path d="M767.13 1200.42L750.63 1191.62V1209.22Z" fill="#808000"/><path d="M776.4 1200.33L759.9 1191.53V1209.13Z" fill="#808000"/><path d="M785.66 1200.23L769.16 1191.43V1209.03Z" fill="#808000"/><path d="M794.93 1200.13L778.43 1191.33V1208.93Z" fill="#808000"/><path d="M804.2 1200.03L787.7 1191.23V1208.83Z" fill="#808000"/><path d="M813.46 1199.93L796.96 1191.13V1208.73Z" fill="#808000"/><path d="M822.73 1199.83L806.23 1191.03V1208.63Z" fill="#808000"/><path d="M831.99 1199.72L815.49 1190.92V1208.52Z" fill="#808000"/><path d="M841.26 1199.61L824.76 1190.81V1208.41Z" fill="#808000"/><path d="M850.53 1199.5L834.03 1190.7V1208.3Z" fill="#808000"/><path d="M859.79 1199.39L843.29 1190.59V1208.19Z" fill="#808000"/><path d="M869.06 1199.27L852.56 1190.47V1208.07Z" fill="#808000"/><path d="M878.32 1199.15L861.82 1190.35V1207.95Z" fill="#808000"/><path d="M887.59 1199.04L871.09 1190.24V1207.84Z" fill="#808000"/><path d="M896.86 1198.91L880.36 1190.11V1207.71Z" fill="#808000"/><path d="M906.12 1198.79L889.62 1189.99V1207.59Z" fill="#808000"/><path d="M915.39 1198.66L898.89 1189.86V1207.46Z" fill="#808000"/><path d="M924.65 1198.54L908.15 1189.74V1207.34Z" fill="#808000"/><path d="M933.92 1198.4L917.42 1189.6V1207.2Z" fill="#808000"/><path d="M943.19 1198.27L926.69 1189.47V1207.07Z" fill="#808000"/><path d="M952.45 1198.14L935.95 1189.34V1206.94Z" fill="#808000"/><path d="M961.72 1198L945.22 1189.2V1206.8Z" fill="#808000"/><path d="M970.98 1197.86L954.48 1189.06V1206.66Z" fill="#808000"/><path d="M980.25 1197.71L963.75 1188.91V1206.51Z" fill="#808000"/></g>
<rect x="590.1" y="272.9" width="356.2" height="263.1" fill="#fff"/>
<line x1="590.1" y1="536" x2="590.1" y2="525" stroke="#000" stroke-width="2"/><line x1="590.1" y1="272.9" x2="590.1" y2="283.9" stroke="#000" stroke-width="2"/><line x1="649.47" y1="536" x2="649.47" y2="530.5" stroke="#000" stroke-width="2"/><line x1="649.47" y1="272.9" x2="649.47" y2="278.4" stroke="#000" stroke-width="2"/><line x1="708.83" y1="536" x2="708.83" y2="525" stroke="#000" stroke-width="2"/><line x1="708.83" y1="272.9" x2="708.83" y2="283.9" stroke="#000" stroke-width="2"/><line x1="768.2" y1="536" x2="768.2" y2="530.5" stroke="#000" stroke-width="2"/><line x1="768.2" y1="272.9" x2="768.2" y2="278.4" stroke="#000" stroke-width="2"/><line x1="827.57" y1="536" x2="827.57" y2="525" stroke="#000" stroke-width="2"/><line x1="827.57" y1="272.9" x2="827.57" y2="283.9" stroke="#000" stroke-width="2"/><line x1="886.93" y1="536" x2="886.93" y2="530.5" stroke="#000" stroke-width="2"/><line x1="886.93" y1="272.9" x2="886.93" y2="278.4" stroke="#000" stroke-width="2"/><line x1="946.3" y1="536" x2="946.3" y2="525" stroke="#000" stroke-width="2"/><line x1="946.3" y1="272.9" x2="946.3" y2="283.9" stroke="#000" stroke-width="2"/><line x1="590.1" y1="536" x2="601.1" y2="536" stroke="#000" stroke-width="2"/><line x1="946.3" y1="536" x2="935.3" y2="536" stroke="#000" stroke-width="2"/><line x1="590.1" y1="473.2" x2="595.6" y2="473.2" stroke="#000" stroke-width="2"/><line x1="946.3" y1="473.2" x2="940.8" y2="473.2" stroke="#000" stroke-width="2"/><line x1="590.1" y1="410.4" x2="601.1" y2="410.4" stroke="#000" stroke-width="2"/><line x1="946.3" y1="410.4" x2="935.3" y2="410.4" stroke="#000" stroke-width="2"/><line x1="590.1" y1="347.6" x2="595.6" y2="347.6" stroke="#000" stroke-width="2"/><line x1="946.3" y1="347.6" x2="940.8" y2="347.6" stroke="#000" stroke-width="2"/><line x1="590.1" y1="284.8" x2="601.1" y2="284.8" stroke="#000" stroke-width="2"/><line x1="946.3" y1="284.8" x2="935.3" y2="284.8" stroke="#000" stroke-width="2"/>
<g clip-path="url(#clipI)"><polyline points="590.34,534 594.09,523.34 597.84,515.34 601.59,496.27 605.35,461.61 609.1,435.84 612.85,403.43 616.6,372.67 620.35,356.27 624.11,338.27 627.86,322.51 631.61,311.17 635.36,300 639.11,293.8 642.87,290.12 646.62,287.21 650.37,283.85 654.12,282.68 657.87,295.5 661.62,301.04 665.38,302.49 669.13,304.25 672.88,303.83 676.63,303.3 680.38,302.84 684.14,302.02 687.89,301.27 691.64,302.15 695.39,304.04 699.14,304.98 702.9,306.26 706.65,309.76 710.4,309.84 714.15,308.72 717.9,308.02 721.66,310.02 725.41,311.71 729.16,311.17 732.91,311.12 736.66,312.03 740.42,313.29 744.17,314.24 747.92,314.94 751.67,315.6 755.42,316.34 759.18,317.2 762.93,318.15 766.68,319.16 770.43,320.23 774.18,321.36 777.94,322.62 781.69,324.04 785.44,325.67 789.19,327.4 792.94,329.18 796.7,331.05 800.45,332.96 804.2,334.87 807.95,337 811.7,339 815.46,340.37 819.21,341.37 822.96,342.15 826.71,342.5 830.46,342.41 834.22,342.15 837.97,341.76 841.72,341 845.47,339.9 849.22,338.45 852.98,335.9 856.73,332.78 860.48,329.93 864.23,327.17 867.98,324.45 871.74,321.87 875.49,319.45 879.24,317.11 882.99,314.96 886.74,313.04 890.5,311.31 894.25,309.71 898,308.2 901.75,306.79 905.5,305.47 909.26,304.15 913.01,302.73 916.76,301.23 920.51,299.71 924.26,298.2 928.02,296.74 931.77,295.28 935.52,293.75 939.27,292.04 943.02,290.14 946.77,289.2" fill="none" stroke="#ff0000" stroke-width="1"/><circle cx="590.34" cy="534" r="5.6" fill="#ff0000"/><circle cx="594.09" cy="523.34" r="5.6" fill="#ff0000"/><circle cx="597.84" cy="515.34" r="5.6" fill="#ff0000"/><circle cx="601.59" cy="496.27" r="5.6" fill="#ff0000"/><circle cx="605.35" cy="461.61" r="5.6" fill="#ff0000"/><circle cx="609.1" cy="435.84" r="5.6" fill="#ff0000"/><circle cx="612.85" cy="403.43" r="5.6" fill="#ff0000"/><circle cx="616.6" cy="372.67" r="5.6" fill="#ff0000"/><circle cx="620.35" cy="356.27" r="5.6" fill="#ff0000"/><circle cx="624.11" cy="338.27" r="5.6" fill="#ff0000"/><circle cx="627.86" cy="322.51" r="5.6" fill="#ff0000"/><circle cx="631.61" cy="311.17" r="5.6" fill="#ff0000"/><circle cx="635.36" cy="300" r="5.6" fill="#ff0000"/><circle cx="639.11" cy="293.8" r="5.6" fill="#ff0000"/><circle cx="642.87" cy="290.12" r="5.6" fill="#ff0000"/><circle cx="646.62" cy="287.21" r="5.6" fill="#ff0000"/><circle cx="650.37" cy="283.85" r="5.6" fill="#ff0000"/><circle cx="654.12" cy="282.68" r="5.6" fill="#ff0000"/><circle cx="657.87" cy="295.5" r="5.6" fill="#ff0000"/><circle cx="661.62" cy="301.04" r="5.6" fill="#ff0000"/><circle cx="665.38" cy="302.49" r="5.6" fill="#ff0000"/><circle cx="669.13" cy="304.25" r="5.6" fill="#ff0000"/><circle cx="672.88" cy="303.83" r="5.6" fill="#ff0000"/><circle cx="676.63" cy="303.3" r="5.6" fill="#ff0000"/><circle cx="680.38" cy="302.84" r="5.6" fill="#ff0000"/><circle cx="684.14" cy="302.02" r="5.6" fill="#ff0000"/><circle cx="687.89" cy="301.27" r="5.6" fill="#ff0000"/><circle cx="691.64" cy="302.15" r="5.6" fill="#ff0000"/><circle cx="695.39" cy="304.04" r="5.6" fill="#ff0000"/><circle cx="699.14" cy="304.98" r="5.6" fill="#ff0000"/><circle cx="702.9" cy="306.26" r="5.6" fill="#ff0000"/><circle cx="706.65" cy="309.76" r="5.6" fill="#ff0000"/><circle cx="710.4" cy="309.84" r="5.6" fill="#ff0000"/><circle cx="714.15" cy="308.72" r="5.6" fill="#ff0000"/><circle cx="717.9" cy="308.02" r="5.6" fill="#ff0000"/><circle cx="721.66" cy="310.02" r="5.6" fill="#ff0000"/><circle cx="725.41" cy="311.71" r="5.6" fill="#ff0000"/><circle cx="729.16" cy="311.17" r="5.6" fill="#ff0000"/><circle cx="732.91" cy="311.12" r="5.6" fill="#ff0000"/><circle cx="736.66" cy="312.03" r="5.6" fill="#ff0000"/><circle cx="740.42" cy="313.29" r="5.6" fill="#ff0000"/><circle cx="744.17" cy="314.24" r="5.6" fill="#ff0000"/><circle cx="747.92" cy="314.94" r="5.6" fill="#ff0000"/><circle cx="751.67" cy="315.6" r="5.6" fill="#ff0000"/><circle cx="755.42" cy="316.34" r="5.6" fill="#ff0000"/><circle cx="759.18" cy="317.2" r="5.6" fill="#ff0000"/><circle cx="762.93" cy="318.15" r="5.6" fill="#ff0000"/><circle cx="766.68" cy="319.16" r="5.6" fill="#ff0000"/><circle cx="770.43" cy="320.23" r="5.6" fill="#ff0000"/><circle cx="774.18" cy="321.36" r="5.6" fill="#ff0000"/><circle cx="777.94" cy="322.62" r="5.6" fill="#ff0000"/><circle cx="781.69" cy="324.04" r="5.6" fill="#ff0000"/><circle cx="785.44" cy="325.67" r="5.6" fill="#ff0000"/><circle cx="789.19" cy="327.4" r="5.6" fill="#ff0000"/><circle cx="792.94" cy="329.18" r="5.6" fill="#ff0000"/><circle cx="796.7" cy="331.05" r="5.6" fill="#ff0000"/><circle cx="800.45" cy="332.96" r="5.6" fill="#ff0000"/><circle cx="804.2" cy="334.87" r="5.6" fill="#ff0000"/><circle cx="807.95" cy="337" r="5.6" fill="#ff0000"/><circle cx="811.7" cy="339" r="5.6" fill="#ff0000"/><circle cx="815.46" cy="340.37" r="5.6" fill="#ff0000"/><circle cx="819.21" cy="341.37" r="5.6" fill="#ff0000"/><circle cx="822.96" cy="342.15" r="5.6" fill="#ff0000"/><circle cx="826.71" cy="342.5" r="5.6" fill="#ff0000"/><circle cx="830.46" cy="342.41" r="5.6" fill="#ff0000"/><circle cx="834.22" cy="342.15" r="5.6" fill="#ff0000"/><circle cx="837.97" cy="341.76" r="5.6" fill="#ff0000"/><circle cx="841.72" cy="341" r="5.6" fill="#ff0000"/><circle cx="845.47" cy="339.9" r="5.6" fill="#ff0000"/><circle cx="849.22" cy="338.45" r="5.6" fill="#ff0000"/><circle cx="852.98" cy="335.9" r="5.6" fill="#ff0000"/><circle cx="856.73" cy="332.78" r="5.6" fill="#ff0000"/><circle cx="860.48" cy="329.93" r="5.6" fill="#ff0000"/><circle cx="864.23" cy="327.17" r="5.6" fill="#ff0000"/><circle cx="867.98" cy="324.45" r="5.6" fill="#ff0000"/><circle cx="871.74" cy="321.87" r="5.6" fill="#ff0000"/><circle cx="875.49" cy="319.45" r="5.6" fill="#ff0000"/><circle cx="879.24" cy="317.11" r="5.6" fill="#ff0000"/><circle cx="882.99" cy="314.96" r="5.6" fill="#ff0000"/><circle cx="886.74" cy="313.04" r="5.6" fill="#ff0000"/><circle cx="890.5" cy="311.31" r="5.6" fill="#ff0000"/><circle cx="894.25" cy="309.71" r="5.6" fill="#ff0000"/><circle cx="898" cy="308.2" r="5.6" fill="#ff0000"/><circle cx="901.75" cy="306.79" r="5.6" fill="#ff0000"/><circle cx="905.5" cy="305.47" r="5.6" fill="#ff0000"/><circle cx="909.26" cy="304.15" r="5.6" fill="#ff0000"/><circle cx="913.01" cy="302.73" r="5.6" fill="#ff0000"/><circle cx="916.76" cy="301.23" r="5.6" fill="#ff0000"/><circle cx="920.51" cy="299.71" r="5.6" fill="#ff0000"/><circle cx="924.26" cy="298.2" r="5.6" fill="#ff0000"/><circle cx="928.02" cy="296.74" r="5.6" fill="#ff0000"/><circle cx="931.77" cy="295.28" r="5.6" fill="#ff0000"/><circle cx="935.52" cy="293.75" r="5.6" fill="#ff0000"/><circle cx="939.27" cy="292.04" r="5.6" fill="#ff0000"/><circle cx="943.02" cy="290.14" r="5.6" fill="#ff0000"/><circle cx="946.77" cy="289.2" r="5.6" fill="#ff0000"/><polyline points="594.09,526.62 597.84,517.95 601.59,506.2 605.35,491.47 609.1,475.07 612.85,459.06 616.6,442.85 620.35,427.8 624.11,411.92 627.86,395.01 631.61,380.7 635.36,368.13 639.11,354.16 642.87,347.57 646.62,346.69 650.37,346.26 654.12,347.17 657.87,348.85 661.62,350 665.38,347.55 669.13,343.91 672.88,339.74 676.63,337.12 680.38,335.6 684.14,334.19 687.89,332.63 691.64,331.07 695.39,329.45 699.14,327.8 702.9,326.48 706.65,325.46 710.4,324.62 714.15,323.81 717.9,323.13 721.66,323.09 725.41,323.73 729.16,324.45 732.91,324.9 736.66,325.28 740.42,325.67 744.17,326.17 747.92,326.81 751.67,327.55 755.42,328.34 759.18,329.17 762.93,330.08 766.68,331.15 770.43,332.57 774.18,334.31 777.94,336.05 781.69,337.57 785.44,339.01 789.19,340.37 792.94,341.67 796.7,342.94 800.45,344.09 804.2,345.02 807.95,345.8 811.7,346.48 815.46,347.07 819.21,347.63 822.96,348.13 826.71,348.48 830.46,348.71 834.22,348.9 837.97,348.99 841.72,348.68 845.47,347.47 849.22,345.84 852.98,343.84 856.73,341.14 860.48,338.46 864.23,335.73 867.98,332.98 871.74,330.37 875.49,327.95 879.24,325.61 882.99,323.46 886.74,321.54 890.5,319.81 894.25,318.21 898,316.7 901.75,315.29 905.5,313.97 909.26,312.65 913.01,311.21 916.76,309.64 920.51,308.09 924.26,306.71 928.02,305.29 931.77,303.93 935.52,303.09 939.27,303.5 943.02,305.95 946.77,307.5" fill="none" stroke="#000000" stroke-width="1"/><rect x="589.49" y="522.02" width="9.2" height="9.2" fill="#000000"/><rect x="593.24" y="513.35" width="9.2" height="9.2" fill="#000000"/><rect x="596.99" y="501.6" width="9.2" height="9.2" fill="#000000"/><rect x="600.75" y="486.87" width="9.2" height="9.2" fill="#000000"/><rect x="604.5" y="470.47" width="9.2" height="9.2" fill="#000000"/><rect x="608.25" y="454.46" width="9.2" height="9.2" fill="#000000"/><rect x="612" y="438.25" width="9.2" height="9.2" fill="#000000"/><rect x="615.75" y="423.2" width="9.2" height="9.2" fill="#000000"/><rect x="619.51" y="407.32" width="9.2" height="9.2" fill="#000000"/><rect x="623.26" y="390.41" width="9.2" height="9.2" fill="#000000"/><rect x="627.01" y="376.1" width="9.2" height="9.2" fill="#000000"/><rect x="630.76" y="363.53" width="9.2" height="9.2" fill="#000000"/><rect x="634.51" y="349.56" width="9.2" height="9.2" fill="#000000"/><rect x="638.27" y="342.97" width="9.2" height="9.2" fill="#000000"/><rect x="642.02" y="342.09" width="9.2" height="9.2" fill="#000000"/><rect x="645.77" y="341.66" width="9.2" height="9.2" fill="#000000"/><rect x="649.52" y="342.57" width="9.2" height="9.2" fill="#000000"/><rect x="653.27" y="344.25" width="9.2" height="9.2" fill="#000000"/><rect x="657.02" y="345.4" width="9.2" height="9.2" fill="#000000"/><rect x="660.78" y="342.95" width="9.2" height="9.2" fill="#000000"/><rect x="664.53" y="339.31" width="9.2" height="9.2" fill="#000000"/><rect x="668.28" y="335.14" width="9.2" height="9.2" fill="#000000"/><rect x="672.03" y="332.52" width="9.2" height="9.2" fill="#000000"/><rect x="675.78" y="331" width="9.2" height="9.2" fill="#000000"/><rect x="679.54" y="329.59" width="9.2" height="9.2" fill="#000000"/><rect x="683.29" y="328.03" width="9.2" height="9.2" fill="#000000"/><rect x="687.04" y="326.47" width="9.2" height="9.2" fill="#000000"/><rect x="690.79" y="324.85" width="9.2" height="9.2" fill="#000000"/><rect x="694.54" y="323.2" width="9.2" height="9.2" fill="#000000"/><rect x="698.3" y="321.88" width="9.2" height="9.2" fill="#000000"/><rect x="702.05" y="320.86" width="9.2" height="9.2" fill="#000000"/><rect x="705.8" y="320.02" width="9.2" height="9.2" fill="#000000"/><rect x="709.55" y="319.21" width="9.2" height="9.2" fill="#000000"/><rect x="713.3" y="318.53" width="9.2" height="9.2" fill="#000000"/><rect x="717.06" y="318.49" width="9.2" height="9.2" fill="#000000"/><rect x="720.81" y="319.13" width="9.2" height="9.2" fill="#000000"/><rect x="724.56" y="319.85" width="9.2" height="9.2" fill="#000000"/><rect x="728.31" y="320.3" width="9.2" height="9.2" fill="#000000"/><rect x="732.06" y="320.68" width="9.2" height="9.2" fill="#000000"/><rect x="735.82" y="321.07" width="9.2" height="9.2" fill="#000000"/><rect x="739.57" y="321.57" width="9.2" height="9.2" fill="#000000"/><rect x="743.32" y="322.21" width="9.2" height="9.2" fill="#000000"/><rect x="747.07" y="322.95" width="9.2" height="9.2" fill="#000000"/><rect x="750.82" y="323.74" width="9.2" height="9.2" fill="#000000"/><rect x="754.58" y="324.57" width="9.2" height="9.2" fill="#000000"/><rect x="758.33" y="325.48" width="9.2" height="9.2" fill="#000000"/><rect x="762.08" y="326.55" width="9.2" height="9.2" fill="#000000"/><rect x="765.83" y="327.97" width="9.2" height="9.2" fill="#000000"/><rect x="769.58" y="329.71" width="9.2" height="9.2" fill="#000000"/><rect x="773.34" y="331.45" width="9.2" height="9.2" fill="#000000"/><rect x="777.09" y="332.97" width="9.2" height="9.2" fill="#000000"/><rect x="780.84" y="334.41" width="9.2" height="9.2" fill="#000000"/><rect x="784.59" y="335.77" width="9.2" height="9.2" fill="#000000"/><rect x="788.34" y="337.07" width="9.2" height="9.2" fill="#000000"/><rect x="792.1" y="338.34" width="9.2" height="9.2" fill="#000000"/><rect x="795.85" y="339.49" width="9.2" height="9.2" fill="#000000"/><rect x="799.6" y="340.42" width="9.2" height="9.2" fill="#000000"/><rect x="803.35" y="341.2" width="9.2" height="9.2" fill="#000000"/><rect x="807.1" y="341.88" width="9.2" height="9.2" fill="#000000"/><rect x="810.86" y="342.47" width="9.2" height="9.2" fill="#000000"/><rect x="814.61" y="343.03" width="9.2" height="9.2" fill="#000000"/><rect x="818.36" y="343.53" width="9.2" height="9.2" fill="#000000"/><rect x="822.11" y="343.88" width="9.2" height="9.2" fill="#000000"/><rect x="825.86" y="344.11" width="9.2" height="9.2" fill="#000000"/><rect x="829.62" y="344.3" width="9.2" height="9.2" fill="#000000"/><rect x="833.37" y="344.39" width="9.2" height="9.2" fill="#000000"/><rect x="837.12" y="344.08" width="9.2" height="9.2" fill="#000000"/><rect x="840.87" y="342.87" width="9.2" height="9.2" fill="#000000"/><rect x="844.62" y="341.24" width="9.2" height="9.2" fill="#000000"/><rect x="848.38" y="339.24" width="9.2" height="9.2" fill="#000000"/><rect x="852.13" y="336.54" width="9.2" height="9.2" fill="#000000"/><rect x="855.88" y="333.86" width="9.2" height="9.2" fill="#000000"/><rect x="859.63" y="331.13" width="9.2" height="9.2" fill="#000000"/><rect x="863.38" y="328.38" width="9.2" height="9.2" fill="#000000"/><rect x="867.14" y="325.77" width="9.2" height="9.2" fill="#000000"/><rect x="870.89" y="323.35" width="9.2" height="9.2" fill="#000000"/><rect x="874.64" y="321.01" width="9.2" height="9.2" fill="#000000"/><rect x="878.39" y="318.86" width="9.2" height="9.2" fill="#000000"/><rect x="882.14" y="316.94" width="9.2" height="9.2" fill="#000000"/><rect x="885.9" y="315.21" width="9.2" height="9.2" fill="#000000"/><rect x="889.65" y="313.61" width="9.2" height="9.2" fill="#000000"/><rect x="893.4" y="312.1" width="9.2" height="9.2" fill="#000000"/><rect x="897.15" y="310.69" width="9.2" height="9.2" fill="#000000"/><rect x="900.9" y="309.37" width="9.2" height="9.2" fill="#000000"/><rect x="904.66" y="308.05" width="9.2" height="9.2" fill="#000000"/><rect x="908.41" y="306.61" width="9.2" height="9.2" fill="#000000"/><rect x="912.16" y="305.04" width="9.2" height="9.2" fill="#000000"/><rect x="915.91" y="303.49" width="9.2" height="9.2" fill="#000000"/><rect x="919.66" y="302.11" width="9.2" height="9.2" fill="#000000"/><rect x="923.42" y="300.69" width="9.2" height="9.2" fill="#000000"/><rect x="927.17" y="299.33" width="9.2" height="9.2" fill="#000000"/><rect x="930.92" y="298.49" width="9.2" height="9.2" fill="#000000"/><rect x="934.67" y="298.9" width="9.2" height="9.2" fill="#000000"/><rect x="938.42" y="301.35" width="9.2" height="9.2" fill="#000000"/><rect x="942.17" y="302.9" width="9.2" height="9.2" fill="#000000"/><polyline points="594.09,530.15 597.84,523.15 601.59,514.87 605.35,505.46 609.1,492.49 612.85,475.35 616.6,464.06 620.35,452.39 624.11,440.67 627.86,430.64 631.61,419.8 635.36,405.76 639.11,389.79 642.87,384.29 646.62,385.28 650.37,386.65 654.12,387.5 657.87,387.28 661.62,385.99 665.38,380.81 669.13,376.12 672.88,371.37 676.63,366.47 680.38,362.97 684.14,360.32 687.89,357.53 691.64,354.26 695.39,351.18 699.14,348.75 702.9,346.63 706.65,344.57 710.4,342.44 714.15,340.96 717.9,340.09 721.66,339.55 725.41,339.81 729.16,340.49 732.91,340.34 736.66,339.95 740.42,339.6 744.17,339.54 747.92,340.05 751.67,340.72 755.42,341 759.18,341 762.93,341 766.68,341 770.43,341.39 774.18,342.42 777.94,343.67 781.69,344.92 785.44,346.43 789.19,347.9 792.94,349.09 796.7,350.22 800.45,351.12 804.2,351.62 807.95,351.95 811.7,352.18 815.46,352.25 819.21,352.14 822.96,351.89 826.71,351.53 830.46,350.78 834.22,349.38 837.97,347.55 841.72,345.03 845.47,341.64 849.22,338.61 852.98,335.63 856.73,332.72 860.48,329.89 864.23,327.12 867.98,324.42 871.74,321.87 875.49,319.45 879.24,317.11 882.99,314.96 886.74,313.04 890.5,311.31 894.25,309.71 898,308.2 901.75,306.79 905.5,305.47 909.26,304.15 913.01,302.73 916.76,301.23 920.51,299.71 924.26,298.2 928.02,296.74 931.77,295.28 935.52,293.75 939.27,292.04 943.02,290.14 946.77,289.2" fill="none" stroke="#00ff00" stroke-width="1"/><path d="M594.09 524.65L600.24 535.65H587.94Z" fill="#00ff00"/><path d="M597.84 517.65L603.99 528.65H591.69Z" fill="#00ff00"/><path d="M601.59 509.37L607.74 520.37H595.44Z" fill="#00ff00"/><path d="M605.35 499.96L611.5 510.96H599.2Z" fill="#00ff00"/><path d="M609.1 486.99L615.25 497.99H602.95Z" fill="#00ff00"/><path d="M612.85 469.85L619 480.85H606.7Z" fill="#00ff00"/><path d="M616.6 458.56L622.75 469.56H610.45Z" fill="#00ff00"/><path d="M620.35 446.89L626.5 457.89H614.2Z" fill="#00ff00"/><path d="M624.11 435.17L630.26 446.17H617.96Z" fill="#00ff00"/><path d="M627.86 425.14L634.01 436.14H621.71Z" fill="#00ff00"/><path d="M631.61 414.3L637.76 425.3H625.46Z" fill="#00ff00"/><path d="M635.36 400.26L641.51 411.26H629.21Z" fill="#00ff00"/><path d="M639.11 384.29L645.26 395.29H632.96Z" fill="#00ff00"/><path d="M642.87 378.79L649.02 389.79H636.72Z" fill="#00ff00"/><path d="M646.62 379.78L652.77 390.78H640.47Z" fill="#00ff00"/><path d="M650.37 381.15L656.52 392.15H644.22Z" fill="#00ff00"/><path d="M654.12 382L660.27 393H647.97Z" fill="#00ff00"/><path d="M657.87 381.78L664.02 392.78H651.72Z" fill="#00ff00"/><path d="M661.62 380.49L667.77 391.49H655.47Z" fill="#00ff00"/><path d="M665.38 375.31L671.53 386.31H659.23Z" fill="#00ff00"/><path d="M669.13 370.62L675.28 381.62H662.98Z" fill="#00ff00"/><path d="M672.88 365.87L679.03 376.87H666.73Z" fill="#00ff00"/><path d="M676.63 360.97L682.78 371.97H670.48Z" fill="#00ff00"/><path d="M680.38 357.47L686.53 368.47H674.23Z" fill="#00ff00"/><path d="M684.14 354.82L690.29 365.82H677.99Z" fill="#00ff00"/><path d="M687.89 352.03L694.04 363.03H681.74Z" fill="#00ff00"/><path d="M691.64 348.76L697.79 359.76H685.49Z" fill="#00ff00"/><path d="M695.39 345.68L701.54 356.68H689.24Z" fill="#00ff00"/><path d="M699.14 343.25L705.29 354.25H692.99Z" fill="#00ff00"/><path d="M702.9 341.13L709.05 352.13H696.75Z" fill="#00ff00"/><path d="M706.65 339.07L712.8 350.07H700.5Z" fill="#00ff00"/><path d="M710.4 336.94L716.55 347.94H704.25Z" fill="#00ff00"/><path d="M714.15 335.46L720.3 346.46H708Z" fill="#00ff00"/><path d="M717.9 334.59L724.05 345.59H711.75Z" fill="#00ff00"/><path d="M721.66 334.05L727.81 345.05H715.51Z" fill="#00ff00"/><path d="M725.41 334.31L731.56 345.31H719.26Z" fill="#00ff00"/><path d="M729.16 334.99L735.31 345.99H723.01Z" fill="#00ff00"/><path d="M732.91 334.84L739.06 345.84H726.76Z" fill="#00ff00"/><path d="M736.66 334.45L742.81 345.45H730.51Z" fill="#00ff00"/><path d="M740.42 334.1L746.57 345.1H734.27Z" fill="#00ff00"/><path d="M744.17 334.04L750.32 345.04H738.02Z" fill="#00ff00"/><path d="M747.92 334.55L754.07 345.55H741.77Z" fill="#00ff00"/><path d="M751.67 335.22L757.82 346.22H745.52Z" fill="#00ff00"/><path d="M755.42 335.5L761.57 346.5H749.27Z" fill="#00ff00"/><path d="M759.18 335.5L765.33 346.5H753.03Z" fill="#00ff00"/><path d="M762.93 335.5L769.08 346.5H756.78Z" fill="#00ff00"/><path d="M766.68 335.5L772.83 346.5H760.53Z" fill="#00ff00"/><path d="M770.43 335.89L776.58 346.89H764.28Z" fill="#00ff00"/><path d="M774.18 336.92L780.33 347.92H768.03Z" fill="#00ff00"/><path d="M777.94 338.17L784.09 349.17H771.79Z" fill="#00ff00"/><path d="M781.69 339.42L787.84 350.42H775.54Z" fill="#00ff00"/><path d="M785.44 340.93L791.59 351.93H779.29Z" fill="#00ff00"/><path d="M789.19 342.4L795.34 353.4H783.04Z" fill="#00ff00"/><path d="M792.94 343.59L799.09 354.59H786.79Z" fill="#00ff00"/><path d="M796.7 344.72L802.85 355.72H790.55Z" fill="#00ff00"/><path d="M800.45 345.62L806.6 356.62H794.3Z" fill="#00ff00"/><path d="M804.2 346.12L810.35 357.12H798.05Z" fill="#00ff00"/><path d="M807.95 346.45L814.1 357.45H801.8Z" fill="#00ff00"/><path d="M811.7 346.68L817.85 357.68H805.55Z" fill="#00ff00"/><path d="M815.46 346.75L821.61 357.75H809.31Z" fill="#00ff00"/><path d="M819.21 346.64L825.36 357.64H813.06Z" fill="#00ff00"/><path d="M822.96 346.39L829.11 357.39H816.81Z" fill="#00ff00"/><path d="M826.71 346.03L832.86 357.03H820.56Z" fill="#00ff00"/><path d="M830.46 345.28L836.61 356.28H824.31Z" fill="#00ff00"/><path d="M834.22 343.88L840.37 354.88H828.07Z" fill="#00ff00"/><path d="M837.97 342.05L844.12 353.05H831.82Z" fill="#00ff00"/><path d="M841.72 339.53L847.87 350.53H835.57Z" fill="#00ff00"/><path d="M845.47 336.14L851.62 347.14H839.32Z" fill="#00ff00"/><path d="M849.22 333.11L855.37 344.11H843.07Z" fill="#00ff00"/><path d="M852.98 330.13L859.13 341.13H846.83Z" fill="#00ff00"/><path d="M856.73 327.22L862.88 338.22H850.58Z" fill="#00ff00"/><path d="M860.48 324.39L866.63 335.39H854.33Z" fill="#00ff00"/><path d="M864.23 321.62L870.38 332.62H858.08Z" fill="#00ff00"/><path d="M867.98 318.92L874.13 329.92H861.83Z" fill="#00ff00"/><path d="M871.74 316.37L877.89 327.37H865.59Z" fill="#00ff00"/><path d="M875.49 313.95L881.64 324.95H869.34Z" fill="#00ff00"/><path d="M879.24 311.61L885.39 322.61H873.09Z" fill="#00ff00"/><path d="M882.99 309.46L889.14 320.46H876.84Z" fill="#00ff00"/><path d="M886.74 307.54L892.89 318.54H880.59Z" fill="#00ff00"/><path d="M890.5 305.81L896.65 316.81H884.35Z" fill="#00ff00"/><path d="M894.25 304.21L900.4 315.21H888.1Z" fill="#00ff00"/><path d="M898 302.7L904.15 313.7H891.85Z" fill="#00ff00"/><path d="M901.75 301.29L907.9 312.29H895.6Z" fill="#00ff00"/><path d="M905.5 299.97L911.65 310.97H899.35Z" fill="#00ff00"/><path d="M909.26 298.65L915.41 309.65H903.11Z" fill="#00ff00"/><path d="M913.01 297.23L919.16 308.23H906.86Z" fill="#00ff00"/><path d="M916.76 295.73L922.91 306.73H910.61Z" fill="#00ff00"/><path d="M920.51 294.21L926.66 305.21H914.36Z" fill="#00ff00"/><path d="M924.26 292.7L930.41 303.7H918.11Z" fill="#00ff00"/><path d="M928.02 291.24L934.17 302.24H921.87Z" fill="#00ff00"/><path d="M931.77 289.78L937.92 300.78H925.62Z" fill="#00ff00"/><path d="M935.52 288.25L941.67 299.25H929.37Z" fill="#00ff00"/><path d="M939.27 286.54L945.42 297.54H933.12Z" fill="#00ff00"/><path d="M943.02 284.64L949.17 295.64H936.87Z" fill="#00ff00"/><path d="M946.77 283.7L952.92 294.7H940.62Z" fill="#00ff00"/><polyline points="594.09,533.82 597.84,531.26 601.59,524.66 605.35,515.2 609.1,505.54 612.85,493.98 616.6,482.75 620.35,471.55 624.11,460.54 627.86,449.27 631.61,439.22 635.36,424.22 639.11,412.93 642.87,410.1 646.62,410.88 650.37,410.57 654.12,408.6 657.87,403.57 661.62,398.26 665.38,395.04 669.13,391.88 672.88,388.11 676.63,384.29 680.38,380.92 684.14,377.84 687.89,374.75 691.64,371.53 695.39,368.46 699.14,365.74 702.9,363.26 706.65,361.04 710.4,358.91 714.15,357.46 717.9,356.59 721.66,356.05 725.41,356.16 729.16,356.5 732.91,356.42 736.66,356.23 740.42,356.05 744.17,356.02 747.92,356.27 751.67,356.61 755.42,356.75 759.18,356.75 762.93,356.75 766.68,356.75 770.43,357.05 774.18,357.83 777.94,358.76 781.69,359.63 785.44,360.62 789.19,361.59 792.94,362.45 796.7,363.38 800.45,364.08 804.2,364.25 807.95,364.21 811.7,364.12 815.46,363.97 819.21,363.33 822.96,362.09 826.71,359.08 830.46,355.2 834.22,352.17 837.97,349.9 841.72,347.82 845.47,345.55 849.22,342.84 852.98,339.82 856.73,336.76 860.48,333.89 864.23,331.12 867.98,328.42 871.74,325.87 875.49,323.45 879.24,321.11 882.99,318.96 886.74,317.04 890.5,315.31 894.25,313.71 898,312.2 901.75,310.79 905.5,309.47 909.26,308.15 913.01,306.73 916.76,305.23 920.51,303.71 924.26,302.2 928.02,300.74 931.77,299.28 935.52,297.75 939.27,296.04 943.02,294.14 946.77,293.2" fill="none" stroke="#0000ff" stroke-width="1"/><path d="M594.09 539.47L600.34 528.17H587.84Z" fill="#0000ff"/><path d="M597.84 536.91L604.09 525.61H591.59Z" fill="#0000ff"/><path d="M601.59 530.31L607.84 519.01H595.34Z" fill="#0000ff"/><path d="M605.35 520.85L611.6 509.55H599.1Z" fill="#0000ff"/><path d="M609.1 511.19L615.35 499.89H602.85Z" fill="#0000ff"/><path d="M612.85 499.63L619.1 488.33H606.6Z" fill="#0000ff"/><path d="M616.6 488.4L622.85 477.1H610.35Z" fill="#0000ff"/><path d="M620.35 477.2L626.6 465.9H614.1Z" fill="#0000ff"/><path d="M624.11 466.19L630.36 454.89H617.86Z" fill="#0000ff"/><path d="M627.86 454.92L634.11 443.62H621.61Z" fill="#0000ff"/><path d="M631.61 444.87L637.86 433.57H625.36Z" fill="#0000ff"/><path d="M635.36 429.87L641.61 418.57H629.11Z" fill="#0000ff"/><path d="M639.11 418.58L645.36 407.28H632.86Z" fill="#0000ff"/><path d="M642.87 415.75L649.12 404.45H636.62Z" fill="#0000ff"/><path d="M646.62 416.53L652.87 405.23H640.37Z" fill="#0000ff"/><path d="M650.37 416.22L656.62 404.92H644.12Z" fill="#0000ff"/><path d="M654.12 414.25L660.37 402.95H647.87Z" fill="#0000ff"/><path d="M657.87 409.22L664.12 397.92H651.62Z" fill="#0000ff"/><path d="M661.62 403.91L667.87 392.61H655.37Z" fill="#0000ff"/><path d="M665.38 400.69L671.63 389.39H659.13Z" fill="#0000ff"/><path d="M669.13 397.53L675.38 386.23H662.88Z" fill="#0000ff"/><path d="M672.88 393.76L679.13 382.46H666.63Z" fill="#0000ff"/><path d="M676.63 389.94L682.88 378.64H670.38Z" fill="#0000ff"/><path d="M680.38 386.57L686.63 375.27H674.13Z" fill="#0000ff"/><path d="M684.14 383.49L690.39 372.19H677.89Z" fill="#0000ff"/><path d="M687.89 380.4L694.14 369.1H681.64Z" fill="#0000ff"/><path d="M691.64 377.18L697.89 365.88H685.39Z" fill="#0000ff"/><path d="M695.39 374.11L701.64 362.81H689.14Z" fill="#0000ff"/><path d="M699.14 371.39L705.39 360.09H692.89Z" fill="#0000ff"/><path d="M702.9 368.91L709.15 357.61H696.65Z" fill="#0000ff"/><path d="M706.65 366.69L712.9 355.39H700.4Z" fill="#0000ff"/><path d="M710.4 364.56L716.65 353.26H704.15Z" fill="#0000ff"/><path d="M714.15 363.11L720.4 351.81H707.9Z" fill="#0000ff"/><path d="M717.9 362.24L724.15 350.94H711.65Z" fill="#0000ff"/><path d="M721.66 361.7L727.91 350.4H715.41Z" fill="#0000ff"/><path d="M725.41 361.81L731.66 350.51H719.16Z" fill="#0000ff"/><path d="M729.16 362.15L735.41 350.85H722.91Z" fill="#0000ff"/><path d="M732.91 362.07L739.16 350.77H726.66Z" fill="#0000ff"/><path d="M736.66 361.88L742.91 350.58H730.41Z" fill="#0000ff"/><path d="M740.42 361.7L746.67 350.4H734.17Z" fill="#0000ff"/><path d="M744.17 361.67L750.42 350.37H737.92Z" fill="#0000ff"/><path d="M747.92 361.92L754.17 350.62H741.67Z" fill="#0000ff"/><path d="M751.67 362.26L757.92 350.96H745.42Z" fill="#0000ff"/><path d="M755.42 362.4L761.67 351.1H749.17Z" fill="#0000ff"/><path d="M759.18 362.4L765.43 351.1H752.93Z" fill="#0000ff"/><path d="M762.93 362.4L769.18 351.1H756.68Z" fill="#0000ff"/><path d="M766.68 362.4L772.93 351.1H760.43Z" fill="#0000ff"/><path d="M770.43 362.7L776.68 351.4H764.18Z" fill="#0000ff"/><path d="M774.18 363.48L780.43 352.18H767.93Z" fill="#0000ff"/><path d="M777.94 364.41L784.19 353.11H771.69Z" fill="#0000ff"/><path d="M781.69 365.28L787.94 353.98H775.44Z" fill="#0000ff"/><path d="M785.44 366.27L791.69 354.97H779.19Z" fill="#0000ff"/><path d="M789.19 367.24L795.44 355.94H782.94Z" fill="#0000ff"/><path d="M792.94 368.1L799.19 356.8H786.69Z" fill="#0000ff"/><path d="M796.7 369.03L802.95 357.73H790.45Z" fill="#0000ff"/><path d="M800.45 369.73L806.7 358.43H794.2Z" fill="#0000ff"/><path d="M804.2 369.9L810.45 358.6H797.95Z" fill="#0000ff"/><path d="M807.95 369.86L814.2 358.56H801.7Z" fill="#0000ff"/><path d="M811.7 369.77L817.95 358.47H805.45Z" fill="#0000ff"/><path d="M815.46 369.62L821.71 358.32H809.21Z" fill="#0000ff"/><path d="M819.21 368.98L825.46 357.68H812.96Z" fill="#0000ff"/><path d="M822.96 367.74L829.21 356.44H816.71Z" fill="#0000ff"/><path d="M826.71 364.73L832.96 353.43H820.46Z" fill="#0000ff"/><path d="M830.46 360.85L836.71 349.55H824.21Z" fill="#0000ff"/><path d="M834.22 357.82L840.47 346.52H827.97Z" fill="#0000ff"/><path d="M837.97 355.55L844.22 344.25H831.72Z" fill="#0000ff"/><path d="M841.72 353.47L847.97 342.17H835.47Z" fill="#0000ff"/><path d="M845.47 351.2L851.72 339.9H839.22Z" fill="#0000ff"/><path d="M849.22 348.49L855.47 337.19H842.97Z" fill="#0000ff"/><path d="M852.98 345.47L859.23 334.17H846.73Z" fill="#0000ff"/><path d="M856.73 342.41L862.98 331.11H850.48Z" fill="#0000ff"/><path d="M860.48 339.54L866.73 328.24H854.23Z" fill="#0000ff"/><path d="M864.23 336.77L870.48 325.47H857.98Z" fill="#0000ff"/><path d="M867.98 334.07L874.23 322.77H861.73Z" fill="#0000ff"/><path d="M871.74 331.52L877.99 320.22H865.49Z" fill="#0000ff"/><path d="M875.49 329.1L881.74 317.8H869.24Z" fill="#0000ff"/><path d="M879.24 326.76L885.49 315.46H872.99Z" fill="#0000ff"/><path d="M882.99 324.61L889.24 313.31H876.74Z" fill="#0000ff"/><path d="M886.74 322.69L892.99 311.39H880.49Z" fill="#0000ff"/><path d="M890.5 320.96L896.75 309.66H884.25Z" fill="#0000ff"/><path d="M894.25 319.36L900.5 308.06H888Z" fill="#0000ff"/><path d="M898 317.85L904.25 306.55H891.75Z" fill="#0000ff"/><path d="M901.75 316.44L908 305.14H895.5Z" fill="#0000ff"/><path d="M905.5 315.12L911.75 303.82H899.25Z" fill="#0000ff"/><path d="M909.26 313.8L915.51 302.5H903.01Z" fill="#0000ff"/><path d="M913.01 312.38L919.26 301.08H906.76Z" fill="#0000ff"/><path d="M916.76 310.88L923.01 299.58H910.51Z" fill="#0000ff"/><path d="M920.51 309.36L926.76 298.06H914.26Z" fill="#0000ff"/><path d="M924.26 307.85L930.51 296.55H918.01Z" fill="#0000ff"/><path d="M928.02 306.39L934.27 295.09H921.77Z" fill="#0000ff"/><path d="M931.77 304.93L938.02 293.63H925.52Z" fill="#0000ff"/><path d="M935.52 303.4L941.77 292.1H929.27Z" fill="#0000ff"/><path d="M939.27 301.69L945.52 290.39H933.02Z" fill="#0000ff"/><path d="M943.02 299.79L949.27 288.49H936.77Z" fill="#0000ff"/><path d="M946.77 298.85L953.02 287.55H940.52Z" fill="#0000ff"/></g>
<rect x="100.6" y="15.4" width="872.2" height="598.8" fill="none" stroke="#000" stroke-width="2.6"/><rect x="590.1" y="272.9" width="356.2" height="263.1" fill="none" stroke="#000" stroke-width="2.1"/><rect x="101.0" y="726.9" width="872" height="478.6" fill="none" stroke="#000" stroke-width="2.6"/>
<text transform="translate(86.7,25.8) scale(1,1.06)" font-size="35.5" text-anchor="end">0.6</text><text transform="translate(86.7,324.6) scale(1,1.06)" font-size="35.5" text-anchor="end">0.3</text><text transform="translate(86.7,623.8) scale(1,1.06)" font-size="35.5" text-anchor="end">0.0</text><text transform="translate(100.6,655.2) scale(1,1.06)" font-size="35.5" text-anchor="middle">0</text><text transform="translate(245.97,655.2) scale(1,1.06)" font-size="35.5" text-anchor="middle">50</text><text transform="translate(391.33,655.2) scale(1,1.06)" font-size="35.5" text-anchor="middle">100</text><text transform="translate(536.7,655.2) scale(1,1.06)" font-size="35.5" text-anchor="middle">150</text><text transform="translate(682.07,655.2) scale(1,1.06)" font-size="35.5" text-anchor="middle">200</text><text transform="translate(827.43,655.2) scale(1,1.06)" font-size="35.5" text-anchor="middle">250</text><text transform="translate(972.8,655.2) scale(1,1.06)" font-size="35.5" text-anchor="middle">300</text><text transform="translate(483.8,703.6) scale(1,1.05)" font-size="40.5" text-anchor="start"><tspan font-style="italic">T</tspan> (K)</text><text transform="translate(25.2,412) rotate(-90) scale(1.0,1)" font-size="39" text-anchor="start"><tspan font-style="italic">ρ</tspan> (<tspan font-family='"Liberation Serif", serif'>μΩ</tspan> m)</text><text transform="translate(827.8,63.8) scale(1,1.02)" font-size="40.5" text-anchor="middle">(a)</text><text transform="translate(195,188.8) scale(1,1.05)" font-size="29.5" text-anchor="start"><tspan font-style="italic">μ</tspan><tspan font-style="italic" font-size="16.5" dy="10.5">0</tspan><tspan font-style="italic" dy="-10.5">H</tspan> =</text><line x1="171.6" y1="223.8" x2="237.6" y2="223.8" stroke="#0000ff" stroke-width="1.75" stroke-opacity="0.55"/><path d="M204.6 236.5L215.4 217.5H193.8Z" fill="#0000ff"/><text transform="translate(246.5,234.1) scale(1,1.05)" font-size="29.5" text-anchor="start">15 T</text><line x1="171.6" y1="259.9" x2="237.6" y2="259.9" stroke="#00ff00" stroke-width="1.75" stroke-opacity="0.55"/><path d="M204.6 248.3L215.4 266.9H193.8Z" fill="#00ff00"/><text transform="translate(246.5,270.2) scale(1,1.05)" font-size="29.5" text-anchor="start">10 T</text><line x1="171.6" y1="295.6" x2="237.6" y2="295.6" stroke="#000000" stroke-width="1.75" stroke-opacity="0.55"/><rect x="196.2" y="287.2" width="16.8" height="16.8" fill="#000000"/><text transform="translate(246.5,305.9) scale(1,1.05)" font-size="29.5" text-anchor="start">5 T</text><line x1="171.6" y1="332" x2="237.6" y2="332" stroke="#ff0000" stroke-width="1.75" stroke-opacity="0.55"/><circle cx="204.6" cy="332" r="9.4" fill="#ff0000"/><text transform="translate(246.5,342.3) scale(1,1.05)" font-size="29.5" text-anchor="start">0 T</text><text transform="translate(579.5,291.6) scale(1,1.05)" font-size="26.5" text-anchor="end">2</text><text transform="translate(579.5,417.1) scale(1,1.05)" font-size="26.5" text-anchor="end">1</text><text transform="translate(579.5,542.6) scale(1,1.05)" font-size="26.5" text-anchor="end">0</text><text transform="translate(590.1,567.6) scale(1,1.05)" font-size="26.5" text-anchor="middle">0</text><text transform="translate(708.83,567.6) scale(1,1.05)" font-size="26.5" text-anchor="middle">100</text><text transform="translate(827.57,567.6) scale(1,1.05)" font-size="26.5" text-anchor="middle">200</text><text transform="translate(946.3,567.6) scale(1,1.05)" font-size="26.5" text-anchor="middle">300</text><text transform="translate(747,597.6) scale(1,1.05)" font-size="30" text-anchor="start"><tspan font-style="italic">T</tspan> (K)</text><text transform="translate(550.3,530.5) rotate(-90) scale(1.0,1)" font-size="30" text-anchor="start"><tspan font-style="italic">dρ</tspan>/<tspan font-style="italic">dT</tspan> (<tspan font-family='"Liberation Serif", serif'>μΩ</tspan> mm/K)</text><text transform="translate(776,305.8) scale(1,1.05)" font-size="23.8" text-anchor="start"><tspan font-style="italic">T</tspan>* = 200 K</text><line x1="829.2" y1="310.5" x2="829.2" y2="330" stroke="#222" stroke-width="1.3"/><path d="M825.9 327.5L829.2 340.8L832.5 327.5Z" fill="#000"/><text transform="translate(739,392.6) scale(1,1.05)" font-size="22.5" text-anchor="start"><tspan font-style="italic">μ</tspan><tspan font-style="italic" font-size="12.6" dy="8">0</tspan><tspan font-style="italic" dy="-8">H</tspan> =</text><line x1="723.2" y1="418.3" x2="771.2" y2="418.3" stroke="#ff0000" stroke-width="1.5" stroke-opacity="0.75"/><circle cx="747.2" cy="418.3" r="9.3" fill="#ff0000"/><text transform="translate(776.6,425.7) scale(1,1.05)" font-size="22.5" text-anchor="start">0 T</text><line x1="723.2" y1="444.3" x2="771.2" y2="444.3" stroke="#000000" stroke-width="1.5" stroke-opacity="0.75"/><rect x="739.1" y="436.2" width="16.2" height="16.2" fill="#000000"/><text transform="translate(776.6,451.7) scale(1,1.05)" font-size="22.5" text-anchor="start">5 T</text><line x1="723.2" y1="470.3" x2="771.2" y2="470.3" stroke="#00ff00" stroke-width="1.5" stroke-opacity="0.75"/><path d="M747.2 458.3L758.2 476.9H736.2Z" fill="#00ff00"/><text transform="translate(776.6,477.7) scale(1,1.05)" font-size="22.5" text-anchor="start">10 T</text><line x1="723.2" y1="496.4" x2="771.2" y2="496.4" stroke="#0000ff" stroke-width="1.5" stroke-opacity="0.75"/><path d="M747.2 508.7L758.2 489.9H736.2Z" fill="#0000ff"/><text transform="translate(776.6,503.8) scale(1,1.05)" font-size="22.5" text-anchor="start">15 T</text><text transform="translate(86.6,1215.1) scale(1,1.06)" font-size="35.5" text-anchor="end">0</text><text transform="translate(86.6,1078.2) scale(1,1.06)" font-size="35.5" text-anchor="end">30</text><text transform="translate(86.6,941.3) scale(1,1.06)" font-size="35.5" text-anchor="end">60</text><text transform="translate(86.6,804.4) scale(1,1.06)" font-size="35.5" text-anchor="end">90</text><text transform="translate(101,1245.6) scale(1,1.06)" font-size="35.5" text-anchor="middle">0</text><text transform="translate(333.53,1245.6) scale(1,1.06)" font-size="35.5" text-anchor="middle">4</text><text transform="translate(566.07,1245.6) scale(1,1.06)" font-size="35.5" text-anchor="middle">8</text><text transform="translate(798.6,1245.6) scale(1,1.06)" font-size="35.5" text-anchor="middle">12</text><text transform="translate(421,1271.2) scale(1,1.05)" font-size="40.5" text-anchor="start"><tspan font-style="italic">μ</tspan><tspan font-style="italic" font-size="23" dy="14">0</tspan><tspan font-style="italic" dy="-14">H</tspan> (T)</text><text transform="translate(30.4,1073.3) rotate(-90) scale(1.0,1)" font-size="39.4" text-anchor="start">MR (<tspan font-family='"Liberation Serif", serif'>%</tspan>)</text><text transform="translate(779.5,773) scale(1,1.02)" font-size="40.5" text-anchor="middle">(b)</text><text transform="translate(217.7,810) scale(1,1.05)" font-size="31.5" text-anchor="start"><tspan font-style="italic">T</tspan> =</text><line x1="162.4" y1="838.5" x2="234.4" y2="838.5" stroke="#ff0000" stroke-width="1.6" stroke-opacity="0.65"/><circle cx="198.6" cy="838.5" r="9.3" fill="#ff0000"/><text transform="translate(243.5,849.6) scale(1,1.05)" font-size="32.5" text-anchor="start">2 K</text><line x1="162.4" y1="877.2" x2="234.4" y2="877.2" stroke="#00ff00" stroke-width="1.6" stroke-opacity="0.65"/><path d="M198.6 865.7L209.4 884.3H187.8Z" fill="#00ff00"/><text transform="translate(243.5,888.3) scale(1,1.05)" font-size="32.5" text-anchor="start">20 K</text><line x1="162.4" y1="916.8" x2="234.4" y2="916.8" stroke="#0000ff" stroke-width="1.6" stroke-opacity="0.65"/><path d="M198.6 929.1L209.4 910.5H187.8Z" fill="#0000ff"/><text transform="translate(243.5,927.9) scale(1,1.05)" font-size="32.5" text-anchor="start">50 K</text><line x1="162.4" y1="956.3" x2="234.4" y2="956.3" stroke="#00ffff" stroke-width="1.6" stroke-opacity="0.65"/><path d="M198.6 945.1L210.1 956.3L198.6 967.5L187.1 956.3Z" fill="#00ffff"/><text transform="translate(243.5,967.4) scale(1,1.05)" font-size="32.5" text-anchor="start">100 K</text><line x1="162.4" y1="995.6" x2="234.4" y2="995.6" stroke="#808000" stroke-width="1.6" stroke-opacity="0.65"/><path d="M212.6 995.6L191 983.6V1007.6Z" fill="#808000"/><text transform="translate(243.5,1006.7) scale(1,1.05)" font-size="32.5" text-anchor="start">200 K</text>
</svg>
</body></html>
